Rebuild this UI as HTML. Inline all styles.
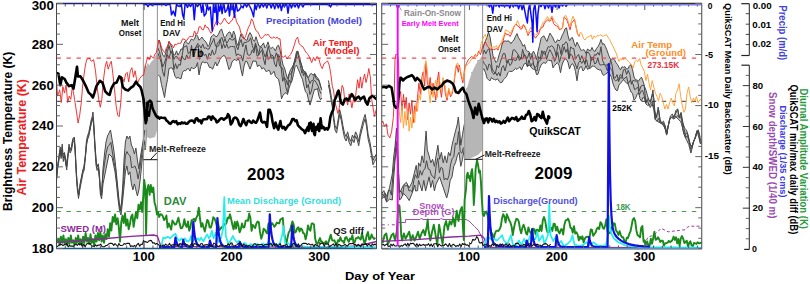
<!DOCTYPE html><html><head><meta charset="utf-8"><style>html,body{margin:0;padding:0;background:#fff;overflow:hidden}svg{display:block}text{font-family:"Liberation Sans",sans-serif}</style></head><body>
<svg width="810" height="284" viewBox="0 0 810 284">
<rect x="0" y="0" width="810" height="284" fill="#fff"/>
<defs><clipPath id="cl"><rect x="56.5" y="3.5" width="320.0" height="245.0"/></clipPath><clipPath id="cr"><rect x="381.75" y="3.5" width="320.0" height="245.0"/></clipPath></defs>
<g clip-path="url(#cl)">
<polygon points="56.5,177.9 57.4,166.6 58.8,158.2 60.2,146.9 61.1,155.4 62.2,144.1 63.3,158.2 64.5,152.5 65.9,161.0 66.7,166.6 67.8,155.4 69.0,144.1 70.1,149.7 71.5,146.9 72.9,138.5 74.3,137.0 75.2,146.9 76.3,172.3 77.4,186.3 78.5,194.8 79.7,186.3 80.8,180.7 81.9,175.1 83.0,169.4 84.2,166.6 85.3,155.4 86.4,141.3 87.5,135.6 88.7,132.8 89.8,127.0 91.2,120.0 92.3,116.3 93.0,112.0 94.0,126.0 94.9,144.1 96.0,161.0 97.1,166.6 98.3,163.8 99.4,172.3 100.3,190.0 101.6,195.0 103.0,168.9 104.5,154.0 106.0,142.0 107.5,136.0 109.0,133.0 110.5,130.0 112.0,139.0 113.5,148.0 115.0,160.0 116.5,174.9 118.0,189.9 119.5,204.9 120.4,210.8 121.6,201.9 122.8,183.9 124.0,160.0 125.4,142.0 126.9,136.0 128.4,139.0 129.9,136.0 131.4,145.0 132.9,148.0 134.4,154.0 135.9,148.0 137.4,160.0 138.9,168.9 140.4,157.0 141.9,148.0 143.4,139.0 144.9,130.0 144.9,142.0 143.4,148.0 141.9,163.0 140.4,177.9 138.9,189.9 137.4,195.9 135.9,189.9 134.4,183.9 132.9,189.9 131.4,183.9 129.9,171.9 128.4,174.9 126.9,165.9 125.4,171.9 124.0,186.9 122.5,201.9 121.0,215.0 119.5,210.8 118.0,198.9 116.5,183.9 115.0,171.9 112.0,157.0 109.0,154.0 106.0,168.9 103.0,183.9 101.6,199.0 100.3,194.0 99.4,176.0 98.3,168.0 97.1,170.5 96.0,165.0 94.9,148.0 94.0,131.0 93.0,117.0 92.3,120.5 91.2,124.0 89.8,131.0 88.7,136.5 87.5,139.0 86.4,145.0 85.3,159.0 84.2,170.0 83.0,173.0 81.9,179.0 80.8,184.5 79.7,190.0 78.5,198.5 77.4,190.0 76.3,176.0 75.2,150.5 74.3,140.5 72.9,142.0 71.5,150.0 70.1,153.0 69.0,147.5 67.8,159.0 66.7,170.0 65.9,164.5 64.5,156.0 63.3,161.5 62.2,147.5 61.1,158.5 60.2,150.0 58.8,161.5 57.4,170.0 56.5,181.0" fill="#c3c3c3" stroke="none" stroke-width="0" />
<polygon points="157.7,42.8 158.4,41.4 159.1,40.0 160.0,42.4 161.5,50.8 163.0,55.5 164.5,56.8 166.0,51.8 167.5,46.8 169.0,41.4 170.5,44.1 172.0,47.9 173.5,54.7 175.0,54.9 176.5,50.8 178.0,55.1 179.5,52.7 181.0,48.9 182.5,49.5 184.0,43.4 185.5,40.8 187.0,42.9 188.5,44.0 190.0,41.3 191.5,38.8 193.0,40.3 194.5,39.1 196.0,34.4 197.5,35.9 199.0,40.2 200.5,38.6 202.0,37.0 203.5,39.6 205.0,40.9 206.5,42.8 208.0,46.5 209.5,44.3 211.0,37.0 212.5,35.4 214.0,34.4 215.5,36.5 217.0,36.5 218.5,34.1 220.0,30.7 221.5,28.9 223.0,33.6 224.5,38.1 226.0,36.4 227.5,33.7 229.0,31.9 230.5,32.5 232.0,37.9 233.5,31.0 235.0,34.5 236.5,42.7 238.0,45.6 239.5,38.7 241.0,34.0 242.5,37.5 244.0,37.6 245.5,39.8 247.0,40.3 248.5,35.2 250.0,32.6 251.5,35.1 253.0,39.7 254.5,41.5 256.0,36.7 257.5,41.6 259.0,46.0 260.5,46.4 262.0,45.3 263.5,42.9 265.0,47.9 266.5,46.1 268.0,41.9 269.5,47.2 271.0,48.5 272.5,47.1 274.0,48.6 275.5,51.0 277.0,46.4 278.5,45.1 280.0,49.8 281.5,57.7 283.0,65.0 284.5,67.9 286.0,73.6 287.5,78.8 289.0,73.8 290.5,69.9 292.0,67.3 293.5,64.7 295.0,58.6 296.5,51.6 298.0,51.1 299.5,57.7 301.0,63.0 302.5,68.5 304.0,71.3 305.5,71.8 307.0,75.2 308.5,77.5 310.0,74.3 311.5,73.4 313.0,75.4 314.5,73.5 316.0,76.2 317.5,77.6 319.0,80.0 320.5,86.1 321.9,90.0 321.9,98.0 320.5,99.8 319.0,96.5 317.5,88.4 316.0,89.5 314.5,89.4 313.0,94.3 311.5,100.2 310.0,105.1 308.5,99.9 307.0,93.3 305.5,91.7 304.0,86.2 302.5,79.4 301.0,76.1 299.5,72.2 298.0,68.7 296.5,65.1 295.0,66.8 293.5,74.6 292.0,80.9 290.5,83.8 289.0,88.3 287.5,94.6 286.0,92.7 284.5,93.4 283.0,95.4 281.5,98.8 280.0,86.3 278.5,79.2 277.0,78.0 275.5,76.5 274.0,71.2 272.5,73.2 271.0,74.7 269.5,70.5 268.0,70.4 266.5,72.0 265.0,69.9 263.5,67.6 262.0,69.2 260.5,66.2 259.0,65.0 257.5,66.8 256.0,61.0 254.5,61.4 253.0,60.8 251.5,65.2 250.0,69.1 248.5,65.4 247.0,61.5 245.5,61.3 244.0,66.0 242.5,76.0 241.0,69.8 239.5,61.4 238.0,58.4 236.5,60.9 235.0,59.3 233.5,60.2 232.0,62.0 230.5,67.3 229.0,69.6 227.5,64.2 226.0,58.3 224.5,55.6 223.0,55.8 221.5,57.4 220.0,59.4 218.5,63.2 217.0,66.0 215.5,62.0 214.0,65.6 212.5,69.3 211.0,67.3 209.5,67.6 208.0,64.0 206.5,62.0 205.0,63.0 203.5,62.0 202.0,62.2 200.5,66.7 199.0,75.0 197.5,62.6 196.0,67.1 194.5,68.3 193.0,68.7 191.5,67.1 190.0,71.1 188.5,68.5 187.0,68.9 185.5,70.9 184.0,70.4 182.5,72.6 181.0,78.8 179.5,78.4 178.0,77.4 176.5,78.3 175.0,76.2 173.5,70.8 172.0,67.8 170.5,68.1 169.0,68.5 167.5,79.5 166.0,87.2 164.5,97.5 163.0,90.8 161.5,84.6 160.0,76.4 159.7,76.4 157.9,74.6" fill="#c3c3c3" stroke="none" stroke-width="0" />
<polyline points="154.8,60.3 155.2,70.0 155.6,78.0 156.5,100.0 156.0,130.0" fill="none" stroke="#666" stroke-width="0.9" stroke-linejoin="round" />
<polyline points="141.5,88.0 143.0,100.0 144.3,128.0 144.6,150.0" fill="none" stroke="#333" stroke-width="1.0" stroke-linejoin="round" />
<polyline points="148.6,65.6 149.5,75.0 151.2,90.2 152.0,110.0 151.0,135.0" fill="none" stroke="#666" stroke-width="0.9" stroke-linejoin="round" />
<polyline points="145.0,70.8 145.5,85.0 146.0,105.0 146.5,130.0 145.5,150.0" fill="none" stroke="#555" stroke-width="0.9" stroke-linejoin="round" />
<polygon points="328.3,80.4 329.3,84.6 330.4,90.9 331.4,97.3 332.5,103.6 333.4,114.0 335.0,125.5 336.6,128.6 338.2,119.1 339.7,109.6 341.3,116.0 342.9,125.5 344.5,133.4 346.1,136.5 347.6,131.8 349.2,138.1 350.8,141.3 352.4,135.0 354.0,138.1 355.6,131.8 357.1,135.0 358.7,141.3 360.3,131.8 361.9,125.5 363.5,119.1 365.1,114.4 366.6,122.3 368.2,135.0 369.8,141.3 371.4,150.8 373.0,160.3 374.5,157.1 376.5,153.9 376.5,158.4 374.5,161.6 373.0,164.8 371.4,155.3 369.8,145.8 368.2,139.5 366.6,126.8 365.1,118.9 363.5,123.6 361.9,130.0 360.3,136.3 358.7,145.8 357.1,139.5 355.6,136.3 354.0,142.6 352.4,139.5 350.8,145.8 349.2,142.6 347.6,136.3 346.1,141.0 344.5,137.9 342.9,130.0 341.3,120.5 339.7,114.1 338.2,123.6 336.6,133.1 335.0,130.0 333.4,118.5 332.5,108.1 331.4,101.8 330.4,95.4 329.3,89.1 328.3,84.9" fill="#c3c3c3" stroke="none" stroke-width="0" />
<polygon points="143.3,70.0 144.3,66.0 145.7,64.5 146.5,66.8 147.9,62.5 149.3,65.4 150.7,62.5 152.1,61.1 153.5,59.7 154.9,56.9 156.3,54.1 157.0,48.5 157.7,42.8 157.7,100.0 157.7,128.0 155.0,137.0 150.0,138.5 147.0,137.0 146.0,127.0 145.5,140.0 144.5,150.0 143.5,158.0 143.3,150.0" fill="#b6b6b6" stroke="none" stroke-width="0" />
<polyline points="56.5,177.9 57.4,166.6 58.8,158.2 60.2,146.9 61.1,155.4 62.2,144.1 63.3,158.2 64.5,152.5 65.9,161.0 66.7,166.6 67.8,155.4 69.0,144.1 70.1,149.7 71.5,146.9 72.9,138.5 74.3,137.0 75.2,146.9 76.3,172.3 77.4,186.3 78.5,194.8 79.7,186.3 80.8,180.7 81.9,175.1 83.0,169.4 84.2,166.6 85.3,155.4 86.4,141.3 87.5,135.6 88.7,132.8 89.8,127.0 91.2,120.0 92.3,116.3 93.0,112.0 94.0,126.0 94.9,144.1 96.0,161.0 97.1,166.6 98.3,163.8 99.4,172.3 100.3,190.0 101.6,195.0 103.0,168.9 104.5,154.0 106.0,142.0 107.5,136.0 109.0,133.0 110.5,130.0 112.0,139.0 113.5,148.0 115.0,160.0 116.5,174.9 118.0,189.9 119.5,204.9 120.4,210.8 121.6,201.9 122.8,183.9 124.0,160.0 125.4,142.0 126.9,136.0 128.4,139.0 129.9,136.0 131.4,145.0 132.9,148.0 134.4,154.0 135.9,148.0 137.4,160.0 138.9,168.9 140.4,157.0 141.9,148.0 143.4,139.0 144.9,130.0" fill="none" stroke="#484848" stroke-width="1.0" stroke-linejoin="round" />
<polyline points="56.5,181.0 57.4,170.0 58.8,161.5 60.2,150.0 61.1,158.5 62.2,147.5 63.3,161.5 64.5,156.0 65.9,164.5 66.7,170.0 67.8,159.0 69.0,147.5 70.1,153.0 71.5,150.0 72.9,142.0 74.3,140.5 75.2,150.5 76.3,176.0 77.4,190.0 78.5,198.5 79.7,190.0 80.8,184.5 81.9,179.0 83.0,173.0 84.2,170.0 85.3,159.0 86.4,145.0 87.5,139.0 88.7,136.5 89.8,131.0 91.2,124.0 92.3,120.5 93.0,117.0 94.0,131.0 94.9,148.0 96.0,165.0 97.1,170.5 98.3,168.0 99.4,176.0 100.3,194.0 101.6,199.0 103.0,183.9 106.0,168.9 109.0,154.0 112.0,157.0 115.0,171.9 116.5,183.9 118.0,198.9 119.5,210.8 121.0,215.0 122.5,201.9 124.0,186.9 125.4,171.9 126.9,165.9 128.4,174.9 129.9,171.9 131.4,183.9 132.9,189.9 134.4,183.9 135.9,189.9 137.4,195.9 138.9,189.9 140.4,177.9 141.9,163.0 143.4,148.0 144.9,142.0" fill="none" stroke="#484848" stroke-width="1.0" stroke-linejoin="round" />
<polyline points="157.7,42.8 158.4,41.4 159.1,40.0 160.0,42.4 161.5,50.8 163.0,55.5 164.5,56.8 166.0,51.8 167.5,46.8 169.0,41.4 170.5,44.1 172.0,47.9 173.5,54.7 175.0,54.9 176.5,50.8 178.0,55.1 179.5,52.7 181.0,48.9 182.5,49.5 184.0,43.4 185.5,40.8 187.0,42.9 188.5,44.0 190.0,41.3 191.5,38.8 193.0,40.3 194.5,39.1 196.0,34.4 197.5,35.9 199.0,40.2 200.5,38.6 202.0,37.0 203.5,39.6 205.0,40.9 206.5,42.8 208.0,46.5 209.5,44.3 211.0,37.0 212.5,35.4 214.0,34.4 215.5,36.5 217.0,36.5 218.5,34.1 220.0,30.7 221.5,28.9 223.0,33.6 224.5,38.1 226.0,36.4 227.5,33.7 229.0,31.9 230.5,32.5 232.0,37.9 233.5,31.0 235.0,34.5 236.5,42.7 238.0,45.6 239.5,38.7 241.0,34.0 242.5,37.5 244.0,37.6 245.5,39.8 247.0,40.3 248.5,35.2 250.0,32.6 251.5,35.1 253.0,39.7 254.5,41.5 256.0,36.7 257.5,41.6 259.0,46.0 260.5,46.4 262.0,45.3 263.5,42.9 265.0,47.9 266.5,46.1 268.0,41.9 269.5,47.2 271.0,48.5 272.5,47.1 274.0,48.6 275.5,51.0 277.0,46.4 278.5,45.1 280.0,49.8 281.5,57.7 283.0,65.0 284.5,67.9 286.0,73.6 287.5,78.8 289.0,73.8 290.5,69.9 292.0,67.3 293.5,64.7 295.0,58.6 296.5,51.6 298.0,51.1 299.5,57.7 301.0,63.0 302.5,68.5 304.0,71.3 305.5,71.8 307.0,75.2 308.5,77.5 310.0,74.3 311.5,73.4 313.0,75.4 314.5,73.5 316.0,76.2 317.5,77.6 319.0,80.0 320.5,86.1 321.9,90.0" fill="none" stroke="#484848" stroke-width="1.0" stroke-linejoin="round" />
<polyline points="157.9,74.6 159.7,76.4 160.0,76.4 161.5,84.6 163.0,90.8 164.5,97.5 166.0,87.2 167.5,79.5 169.0,68.5 170.5,68.1 172.0,67.8 173.5,70.8 175.0,76.2 176.5,78.3 178.0,77.4 179.5,78.4 181.0,78.8 182.5,72.6 184.0,70.4 185.5,70.9 187.0,68.9 188.5,68.5 190.0,71.1 191.5,67.1 193.0,68.7 194.5,68.3 196.0,67.1 197.5,62.6 199.0,75.0 200.5,66.7 202.0,62.2 203.5,62.0 205.0,63.0 206.5,62.0 208.0,64.0 209.5,67.6 211.0,67.3 212.5,69.3 214.0,65.6 215.5,62.0 217.0,66.0 218.5,63.2 220.0,59.4 221.5,57.4 223.0,55.8 224.5,55.6 226.0,58.3 227.5,64.2 229.0,69.6 230.5,67.3 232.0,62.0 233.5,60.2 235.0,59.3 236.5,60.9 238.0,58.4 239.5,61.4 241.0,69.8 242.5,76.0 244.0,66.0 245.5,61.3 247.0,61.5 248.5,65.4 250.0,69.1 251.5,65.2 253.0,60.8 254.5,61.4 256.0,61.0 257.5,66.8 259.0,65.0 260.5,66.2 262.0,69.2 263.5,67.6 265.0,69.9 266.5,72.0 268.0,70.4 269.5,70.5 271.0,74.7 272.5,73.2 274.0,71.2 275.5,76.5 277.0,78.0 278.5,79.2 280.0,86.3 281.5,98.8 283.0,95.4 284.5,93.4 286.0,92.7 287.5,94.6 289.0,88.3 290.5,83.8 292.0,80.9 293.5,74.6 295.0,66.8 296.5,65.1 298.0,68.7 299.5,72.2 301.0,76.1 302.5,79.4 304.0,86.2 305.5,91.7 307.0,93.3 308.5,99.9 310.0,105.1 311.5,100.2 313.0,94.3 314.5,89.4 316.0,89.5 317.5,88.4 319.0,96.5 320.5,99.8 321.9,98.0" fill="none" stroke="#484848" stroke-width="1.0" stroke-linejoin="round" />
<polyline points="328.3,80.4 329.3,84.6 330.4,90.9 331.4,97.3 332.5,103.6 333.4,114.0 335.0,125.5 336.6,128.6 338.2,119.1 339.7,109.6 341.3,116.0 342.9,125.5 344.5,133.4 346.1,136.5 347.6,131.8 349.2,138.1 350.8,141.3 352.4,135.0 354.0,138.1 355.6,131.8 357.1,135.0 358.7,141.3 360.3,131.8 361.9,125.5 363.5,119.1 365.1,114.4 366.6,122.3 368.2,135.0 369.8,141.3 371.4,150.8 373.0,160.3 374.5,157.1 376.5,153.9" fill="none" stroke="#484848" stroke-width="1.0" stroke-linejoin="round" />
<polyline points="328.3,84.9 329.3,89.1 330.4,95.4 331.4,101.8 332.5,108.1 333.4,118.5 335.0,130.0 336.6,133.1 338.2,123.6 339.7,114.1 341.3,120.5 342.9,130.0 344.5,137.9 346.1,141.0 347.6,136.3 349.2,142.6 350.8,145.8 352.4,139.5 354.0,142.6 355.6,136.3 357.1,139.5 358.7,145.8 360.3,136.3 361.9,130.0 363.5,123.6 365.1,118.9 366.6,126.8 368.2,139.5 369.8,145.8 371.4,155.3 373.0,164.8 374.5,161.6 376.5,158.4" fill="none" stroke="#484848" stroke-width="1.0" stroke-linejoin="round" />
<polyline points="157.9,53.2 159.5,57.5 161.1,62.0 162.7,71.8 164.3,76.4 165.9,62.2 167.5,54.7 169.1,58.4 170.7,51.8 172.3,54.2 173.9,69.6 175.5,63.6 177.1,68.7 178.7,64.4 180.3,65.2 181.9,56.0 183.5,58.9 185.1,59.8 186.7,54.9 188.3,58.4 189.9,57.1 191.5,45.4 193.1,56.7 194.7,53.1 196.3,46.1 197.9,43.4 199.5,59.4 201.1,49.7 202.7,52.0 204.3,55.6 205.9,54.2 207.5,59.3 209.1,53.2 210.7,55.7 212.3,49.9 213.9,54.7 215.5,53.3 217.1,43.9 218.7,41.6 220.3,39.3 221.9,48.7 223.5,43.5 225.1,47.9 226.7,44.0 228.3,48.3 229.9,46.8 231.5,46.5 233.1,46.6 234.7,46.6 236.3,55.8 237.9,53.9 239.5,55.0 241.1,55.4 242.7,61.1 244.3,52.6 245.9,44.9 247.5,54.5 249.1,55.4 250.7,54.5 252.3,49.9 253.9,52.9 255.5,44.5 257.1,56.2 258.7,55.2 260.3,52.2 261.9,49.9 263.5,59.0 265.1,64.7 266.7,51.6 268.3,59.5 269.9,57.1 271.5,54.9 273.1,55.9 274.7,64.3 276.3,66.7 277.9,54.1 279.5,65.9 281.1,67.2 282.7,81.3 284.3,76.9 285.9,87.3 287.5,92.7 289.1,80.1 290.7,82.8 292.3,69.9 293.9,63.1 295.5,62.2 297.1,51.6 298.7,57.2 300.3,65.4 301.9,73.2 303.5,71.7 305.1,73.6 306.7,87.9 308.3,84.4 309.9,94.5 311.5,91.0 313.1,82.0 314.7,80.3 316.3,82.5 317.9,85.8 319.5,90.4 321.1,93.7" fill="none" stroke="#484848" stroke-width="1.0" stroke-linejoin="round" />
<polyline points="56.5,179.2 58.1,163.3 59.7,150.9 61.3,156.5 62.9,153.1 64.5,154.3 66.1,165.9 67.7,156.4 69.3,147.6 70.9,150.4 72.5,140.9 74.1,138.2 75.7,161.5 77.3,186.6 78.9,195.2 80.5,182.2 82.1,174.4 83.7,167.8 85.3,157.2 86.9,142.3 88.5,135.6 90.1,129.1 91.7,119.7 93.3,120.2 94.9,144.1 96.5,164.3 98.1,167.4 99.7,181.5 101.3,195.4 102.9,175.4 104.5,163.8 106.1,153.3 107.7,146.7 109.3,145.2 110.9,142.3 112.5,153.1 114.1,162.4 115.7,169.6 117.3,186.7 118.9,202.4 120.5,210.1 122.1,199.4 123.7,180.4 125.3,155.8 126.9,151.5 128.5,154.5 130.1,155.8 131.7,167.7 133.3,167.2 134.9,166.0 136.5,170.1 138.1,178.9 139.7,170.1 141.3,157.8 142.9,147.5 144.5,140.5" fill="none" stroke="#484848" stroke-width="1.0" stroke-linejoin="round" />
<polyline points="157.9,48.0 159.5,51.7 161.1,58.9 162.7,66.8 164.3,63.5 165.9,58.4 167.5,51.4 169.1,45.6 170.7,52.8 172.3,50.4 173.9,59.4 175.5,56.5 177.1,56.8 178.7,59.3 180.3,61.0 181.9,56.8 183.5,47.0 185.1,46.6 186.7,45.7 188.3,53.8 189.9,51.9 191.5,48.9 193.1,50.6 194.7,48.4 196.3,47.0 197.9,47.2 199.5,45.4 201.1,48.2 202.7,44.1 204.3,48.4 205.9,47.8 207.5,49.1 209.1,49.0 210.7,45.0 212.3,42.1 213.9,38.5 215.5,46.1 217.1,46.7 218.7,45.7 220.3,39.4 221.9,37.4 223.5,42.7 225.1,38.6 226.7,43.4 228.3,40.8 229.9,38.0 231.5,40.0 233.1,40.0 234.7,37.8 236.3,46.0 237.9,49.7 239.5,43.4 241.1,39.5 242.7,46.7 244.3,42.2 245.9,42.6 247.5,41.6 249.1,41.0 250.7,37.9 252.3,45.4 253.9,50.4 255.5,42.9 257.1,48.7 258.7,54.5 260.3,46.7 261.9,47.7 263.5,52.2 265.1,56.8 266.7,53.5 268.3,46.4 269.9,52.7 271.5,58.3 273.1,57.7 274.7,58.7 276.3,52.8 277.9,57.4 279.5,55.9 281.1,67.7 282.7,68.1 284.3,78.8 285.9,79.1 287.5,85.0 289.1,74.3 290.7,74.2 292.3,70.8 293.9,66.4 295.5,57.4 297.1,57.5 298.7,56.6 300.3,61.9 301.9,66.3 303.5,75.6 305.1,72.4 306.7,76.4 308.3,78.4 309.9,83.5 311.5,80.7 313.1,80.4 314.7,73.9 316.3,79.1 317.9,79.7 319.5,82.0 321.1,87.8" fill="none" stroke="#484848" stroke-width="1.0" stroke-linejoin="round" />
<polyline points="143.4,3.5 143.4,248.5" fill="none" stroke="#9a9a9a" stroke-width="1.1" stroke-linejoin="round" />
<polyline points="157.4,3.5 157.4,248.5" fill="none" stroke="#9a9a9a" stroke-width="1.1" stroke-linejoin="round" />
<polyline points="56.5,58.1 376.5,58.1" fill="none" stroke="#f05050" stroke-width="1.1" stroke-linejoin="round" stroke-dasharray="4.4,5.6"/>
<polyline points="56.5,101.3 376.5,101.3" fill="none" stroke="#333" stroke-width="1.0" stroke-linejoin="round" stroke-dasharray="4.4,5.6"/>
<polyline points="56.5,211.5 376.5,211.5" fill="none" stroke="#4a9a4a" stroke-width="1.1" stroke-linejoin="round" stroke-dasharray="4.4,5.6"/>
<polyline points="56.5,80.3 57.5,96.1 59.7,89.8 61.3,102.5 62.9,86.6 64.5,93.0 66.1,85.0 67.7,102.5 69.2,96.1 70.8,99.3 72.4,86.6 74.6,99.3 76.5,112.0 78.1,123.0 79.7,115.1 81.3,102.5 82.8,83.5 85.0,67.7 86.6,59.7 89.2,58.2 91.4,61.3 93.6,59.7 95.5,70.8 97.1,86.6 98.7,99.3 100.3,107.2 101.8,99.3 103.4,80.3 105.0,67.7 106.6,61.3 108.2,69.2 109.7,64.5 111.3,61.3 112.9,74.0 114.5,89.8 116.1,105.6 117.7,115.1 119.2,116.7 120.8,102.5 122.4,77.2 124.0,81.9 125.6,74.0 127.2,72.4 128.7,81.9 130.3,70.8 131.9,67.7 133.5,77.2 135.1,70.8 137.3,83.5 139.5,78.7 142.0,75.6 143.6,75.2 145.0,68.2 146.5,61.1 147.9,56.9 149.3,59.7 150.7,55.5 152.1,56.9 153.5,58.3 154.9,54.1 156.3,52.7 157.7,45.6 159.1,40.0 160.5,44.2 161.9,48.5 163.4,51.3 164.8,52.7 166.2,48.5 168.0,45.6 169.0,41.7 170.8,44.4 172.0,44.9 173.5,47.9 175.0,44.0 176.5,44.9 178.0,43.1 179.5,43.5 181.0,43.0 182.5,38.9 184.0,39.2 185.5,40.2 187.0,40.4 188.5,37.7 190.0,36.4 191.5,36.5 193.0,36.8 194.5,31.0 196.0,34.1 197.5,33.6 199.0,26.9 200.5,26.6 202.0,29.5 203.5,29.9 205.0,24.8 206.5,27.4 208.0,27.5 209.5,30.7 211.0,33.3 212.5,31.4 214.0,26.7 215.5,23.0 217.0,19.8 218.5,22.7 220.0,24.3 221.5,23.4 223.0,20.9 224.5,18.0 226.0,20.5 227.5,22.9 229.0,23.9 230.5,21.4 232.0,20.6 233.5,17.1 235.0,14.8 236.5,21.8 238.0,24.7 239.5,27.0 241.0,33.7 242.5,34.2 244.0,39.1 245.5,36.7 247.0,31.6 248.5,27.2 250.0,24.6 251.5,18.8 253.0,21.2 254.5,27.0 256.0,30.6 257.5,31.6 259.0,34.4 260.5,37.9 262.0,38.5 263.5,36.5 265.0,34.5 266.5,35.1 268.0,34.1 269.5,36.2 271.0,38.0 272.5,38.0 274.0,36.8 275.5,38.4 277.0,37.0 278.5,39.0 280.0,38.7 280.9,47.6 281.8,56.4 283.5,57.3 285.3,55.5 287.1,59.0 288.8,56.4 290.6,54.6 292.3,51.1 294.1,45.8 295.9,39.7 297.6,37.0 299.0,43.2 301.1,45.8 302.9,46.7 304.7,50.2 306.4,52.9 308.2,54.6 309.9,58.2 311.7,62.6 313.5,57.3 315.2,60.8 317.0,56.4 318.7,58.2 320.5,65.2 322.3,68.7 324.0,63.5 325.8,62.6 327.5,60.8 329.4,65.6 330.8,74.1 332.2,85.4 333.6,91.0 335.0,102.3 336.5,107.9 337.9,113.5 339.3,107.9 340.7,96.6 342.1,85.4 343.5,88.2 344.9,102.3 346.3,99.4 347.7,105.1 349.1,93.8 350.5,99.4 351.9,107.9 353.4,99.4 354.8,102.3 356.2,91.0 357.6,79.7 359.0,88.2 360.4,76.9 361.8,88.2 363.2,79.7 364.6,74.1 366.0,82.5 367.4,76.9 368.8,68.5 370.3,76.9 371.7,99.4 373.1,107.9 374.5,116.3 375.9,110.7 377.6,105.1" fill="none" stroke="#f02020" stroke-width="0.9" stroke-linejoin="round" />
<polyline points="56.0,242.8 58.5,239.1 59.7,245.3 60.9,236.7 62.2,242.8 63.4,235.4 64.6,244.0 65.9,239.1 67.1,245.3 68.3,237.9 69.5,244.0 70.8,235.4 72.0,242.8 73.2,240.3 74.5,245.3 75.7,237.9 76.9,242.8 78.2,235.4 79.4,244.0 80.6,239.1 81.9,245.3 83.1,236.7 84.3,242.8 85.6,233.0 86.8,241.6 88.0,237.9 89.3,244.0 90.5,234.2 91.7,242.8 92.9,239.1 94.2,245.3 95.4,235.4 96.6,241.6 97.9,233.0 99.1,240.3 100.3,231.7 101.6,241.6 102.8,235.4 104.0,242.8 105.3,234.2 106.5,239.1 107.7,229.3 109.0,236.7 110.2,223.1 111.4,230.5 112.7,216.9 113.9,221.9 115.1,214.5 116.3,224.3 117.6,218.2 118.8,226.8 120.0,241.6 121.3,221.9 122.5,215.7 123.7,223.1 125.0,213.3 126.2,225.6 127.4,219.4 128.7,229.3 129.9,224.3 131.1,216.9 132.4,214.5 133.6,226.8 134.8,219.4 136.0,212.0 137.3,218.2 138.5,204.6 139.7,209.6 141.0,202.2 142.2,212.0 143.4,194.8 144.2,180.0 145.2,187.4 146.1,234.2 147.1,189.9 148.4,184.9 149.6,194.8 150.8,184.9 152.1,192.3 153.3,187.4 154.5,202.2 155.8,207.1 157.0,214.5 158.0,211.9 159.2,217.0 160.4,214.2 161.6,214.4 162.8,216.3 164.0,220.0 165.2,218.7 166.4,215.5 167.6,227.6 168.8,223.4 170.0,226.5 171.2,229.6 172.4,220.5 173.6,222.2 174.8,224.6 176.0,224.3 177.2,221.4 178.4,217.7 179.6,223.6 180.8,228.2 182.0,228.0 183.2,225.3 184.4,219.3 185.6,225.2 186.8,227.0 188.0,221.4 189.2,230.7 190.4,227.7 191.6,220.2 192.8,219.9 194.0,218.7 195.2,221.3 196.4,217.6 197.6,215.3 198.8,207.7 200.0,218.5 201.2,226.9 202.4,223.2 203.6,227.5 204.8,231.5 206.0,225.8 207.2,219.9 208.4,221.2 209.6,227.4 210.8,227.7 212.0,223.8 213.2,217.3 214.4,218.2 215.6,221.3 216.8,225.9 218.0,222.3 219.2,230.5 220.4,229.0 221.6,227.1 222.8,228.5 224.0,223.7 225.2,224.7 226.4,223.3 227.6,217.6 228.8,218.4 230.0,214.3 231.2,219.3 232.4,225.0 233.6,229.4 234.8,221.9 236.0,228.6 237.2,221.4 238.4,225.3 239.6,232.4 240.8,229.3 242.0,223.4 243.2,227.5 244.4,227.3 245.6,220.8 246.8,220.4 248.0,220.8 249.2,213.4 250.4,218.0 251.6,230.9 252.8,224.9 254.0,226.5 255.2,228.1 256.4,223.5 257.6,221.6 258.8,222.2 260.0,231.9 261.2,238.7 262.4,235.3 263.6,228.8 264.8,229.8 266.0,231.9 267.2,233.5 268.4,223.9 269.6,222.7 270.8,225.5 272.0,223.1 273.2,224.5 274.4,226.8 275.6,225.2 276.8,222.6 278.0,223.3 279.2,223.4 280.4,219.3 281.6,218.8 282.8,217.9 284.0,232.8 285.2,238.2 286.4,243.9 287.6,237.3 288.8,232.2 290.0,230.6 291.2,225.8 292.4,221.4 293.6,224.4 294.8,232.7 296.0,231.8 297.2,228.2 298.4,227.3 299.6,231.5 300.8,228.5 302.0,229.5 303.2,233.2 304.4,233.6 305.6,239.2 306.8,234.4 308.0,225.4 309.2,229.1 310.4,230.7 311.6,223.7 312.8,223.4 314.0,224.7 315.2,238.8 316.4,243.0 317.6,244.0 318.8,240.7 320.0,238.1 321.2,241.9 322.4,241.8 323.6,244.2 324.8,242.6 326.0,241.3 327.2,243.2 328.4,242.5 329.6,238.5 330.8,234.6 332.0,240.0 333.2,240.7 334.4,240.3 335.6,243.1 336.8,244.7 338.0,240.1 339.2,241.2 340.4,237.2 341.6,240.7 342.8,241.0 344.0,243.0 345.2,237.8 346.4,237.0 347.6,239.8 348.8,241.8 350.0,238.6 351.2,239.3 352.4,235.3 353.6,243.0 354.8,242.1 356.0,238.1 357.2,238.0 358.4,237.1 359.6,238.5 360.8,239.4 362.0,233.2 363.2,238.2 364.4,243.3 365.6,240.7 366.8,234.8 368.0,232.0 369.2,239.6 370.4,238.8 371.6,234.5 372.8,237.3 374.0,239.0 375.2,237.9" fill="none" stroke="#1a8a1a" stroke-width="1.9" stroke-linejoin="round" />
<polyline points="56.5,242.5 106.0,238.5 131.0,236.3 153.5,235.0 157.3,236.0 161.0,246.5 340.0,247.3 360.0,245.5 376.5,241.5" fill="none" stroke="#8a2a9a" stroke-width="1.3" stroke-linejoin="round" />
<polyline points="159.0,247.5 161.6,245.3 163.1,237.6 165.4,238.3 167.8,236.8 170.1,238.3 172.4,236.0 175.5,233.7 177.1,238.3 179.4,240.7 181.7,238.3 183.3,240.7 184.8,238.3 187.1,241.4 189.5,240.7 191.0,236.0 192.6,242.2 194.9,237.6 196.4,239.9 198.0,238.3 199.5,240.7 201.1,237.6 203.4,241.4 205.7,236.8 207.3,234.5 208.8,238.3 210.4,236.0 211.9,230.6 213.5,238.3 215.8,232.9 217.4,239.1 218.9,242.2 221.2,237.6 222.8,229.8 223.6,214.3 224.3,197.0 225.1,220.5 225.9,236.0 228.2,243.8 230.5,240.7 232.9,236.0 234.4,239.1 236.7,242.2 239.1,240.7 242.0,245.0 245.0,243.0 248.0,246.0 251.0,244.0 254.0,246.5 257.0,244.0 260.0,246.0 263.0,243.5 266.0,246.0 269.0,241.0 271.0,245.5 274.0,243.5 277.0,246.0 280.0,243.0 282.5,234.0 283.5,226.0 284.5,238.0 285.5,244.5 288.0,243.0 291.0,246.0 294.0,244.5 297.0,246.5 300.0,245.5 305.0,246.5 376.5,247.0" fill="none" stroke="#22eeee" stroke-width="1.7" stroke-linejoin="round" />
<polyline points="159.0,247.0 159.7,247.0 160.4,247.0 161.1,247.0 161.8,247.0 162.5,247.0 163.2,247.0 163.9,247.0 164.6,247.0 165.3,247.0 166.0,247.0 166.7,247.0 167.4,247.0 168.1,247.0 168.8,247.0 169.5,247.0 170.2,247.0 170.9,247.0 171.6,247.0 172.3,247.0 173.0,247.0 173.7,247.0 174.3,247.0 174.4,246.2 175.1,240.7 175.5,237.6 175.8,239.3 176.5,242.2 177.2,244.0 177.9,245.1 178.6,245.8 179.3,246.3 180.0,246.5 180.7,246.7 181.4,246.8 182.1,246.9 182.8,242.9 183.3,239.9 183.5,240.8 184.2,243.1 184.9,244.6 185.6,245.5 186.3,246.0 187.0,246.4 187.7,246.6 188.4,246.8 189.1,246.9 189.8,246.9 190.5,246.9 191.2,247.0 191.9,247.0 192.1,247.0 192.6,236.5 193.3,221.8 194.0,229.9 194.7,235.4 195.4,239.2 196.1,241.7 196.8,243.4 197.5,244.6 198.2,245.3 198.9,245.9 199.6,246.2 200.3,246.5 201.0,246.7 201.7,246.8 202.4,246.8 203.1,246.9 203.8,246.9 204.5,246.9 205.2,247.0 205.9,247.0 206.6,247.0 207.3,247.0 208.0,247.0 208.7,247.0 208.8,247.0 209.4,243.7 210.0,240.5 210.1,241.0 210.8,243.7 211.5,245.1 212.2,246.0 212.9,246.4 213.6,246.7 214.3,246.8 215.0,246.9 215.7,246.9 216.2,247.0 216.4,242.2 217.1,225.4 217.4,218.2 217.8,223.9 218.5,231.4 219.2,236.4 219.9,239.8 220.6,242.1 221.3,243.7 222.0,244.8 222.7,245.5 223.4,246.0 224.1,246.3 224.8,246.5 225.5,246.7 226.2,246.8 226.9,246.9 227.6,246.9 228.3,246.9 229.0,247.0 229.7,247.0 230.4,247.0 231.1,247.0 231.8,247.0 232.5,247.0 233.2,247.0 233.9,247.0 234.6,247.0 235.3,247.0 236.0,247.0 236.7,247.0 237.4,247.0 238.1,247.0 238.8,247.0 239.5,244.1 240.0,242.0 240.2,242.8 240.9,244.6 241.6,245.7 242.3,246.3 243.0,246.6 243.7,246.8 244.4,246.9 245.1,246.9 245.8,247.0 246.5,247.0 247.2,247.0 247.9,247.0 248.6,247.0 249.3,247.0 250.0,247.0 250.7,247.0 251.4,247.0 252.1,247.0 252.8,247.0 253.5,247.0 254.2,247.0 254.9,247.0 255.6,247.0 256.3,247.0 257.0,247.0 257.7,247.0 258.4,247.0 259.1,247.0 259.8,247.0 260.5,247.0 261.2,247.0 261.9,247.0 262.6,247.0 263.3,247.0 264.0,247.0 264.7,247.0 265.4,247.0 266.1,247.0 266.8,247.0 267.5,247.0 268.2,247.0 268.6,247.0 268.9,238.8 269.6,219.7 269.8,214.3 270.3,222.2 271.0,230.2 271.7,235.6 272.4,239.3 273.1,241.8 273.8,243.5 274.5,244.6 275.2,245.4 275.9,245.9 276.6,246.3 277.3,246.5 278.0,246.7 278.7,246.8 279.4,246.8 280.1,246.9 280.8,246.9 281.5,247.0 282.2,247.0 282.9,247.0 283.6,247.0 284.3,247.0 285.0,247.0 285.7,247.0 286.4,247.0 287.1,247.0 287.8,247.0 288.5,247.0 289.2,247.0 289.9,247.0 290.6,247.0 291.1,247.0 291.3,243.4 292.0,230.9 292.3,225.5 292.7,230.3 293.4,236.2 294.1,240.0 294.8,242.5 295.5,244.1 296.2,245.1 296.9,245.8 297.6,246.2 298.3,246.5 299.0,246.7 299.7,246.8" fill="none" stroke="#1010e0" stroke-width="2.2" stroke-linejoin="round" />
<polyline points="56.5,246.7 57.8,246.2 59.1,244.9 60.4,244.3 61.7,244.5 63.0,245.6 64.3,244.7 65.6,244.3 66.9,243.6 68.2,246.8 69.5,245.5 70.8,246.2 72.1,245.9 73.4,246.6 74.7,244.7 76.0,243.9 77.3,245.5 78.6,243.7 79.9,245.0 81.2,243.5 82.5,246.8 83.8,244.1 85.1,246.9 86.4,244.3 87.7,243.3 89.0,243.7 90.3,243.6 91.6,246.0 92.9,246.1 94.2,246.6 95.5,244.9 96.8,246.2 98.1,245.0 99.4,245.2 100.7,244.1 102.0,246.6 103.3,246.8 104.6,246.7 105.9,245.5 107.2,245.4 108.5,244.0 109.8,243.4 111.1,243.2 112.4,243.6 113.7,245.5 115.0,243.6 116.3,245.0 117.6,246.4 118.9,243.5 120.2,245.5 121.5,245.5 122.8,245.3 124.1,243.5 125.4,244.2 126.7,243.4 128.0,243.4 129.3,243.2 130.6,246.6 131.9,245.8 133.2,246.6 134.5,245.4 135.8,246.8 137.1,244.5 138.4,243.3 139.7,246.3 141.0,244.2 142.3,244.4 143.6,240.6 144.9,241.6 146.2,241.9 147.5,242.5 148.8,241.0 150.1,240.4 151.4,240.6 152.7,243.1 154.0,242.7 155.3,244.2 156.6,243.5 157.9,244.3 159.2,245.3 160.5,245.5 161.8,246.7 163.1,244.9 164.4,245.7 165.7,244.1 167.0,245.3 168.3,245.3 169.6,243.4 170.9,246.2 172.2,244.7 173.5,244.9 174.8,244.2 176.1,245.2 177.4,244.9 178.7,246.1 180.0,243.3 181.3,244.7 182.6,243.5 183.9,245.0 185.2,243.6 186.5,244.6 187.8,245.1 189.1,246.7 190.4,245.2 191.7,243.2 193.0,246.2 194.3,243.6 195.6,244.1 196.9,244.9 198.2,244.8 199.5,245.6 200.8,243.8 202.1,243.6 203.4,245.9 204.7,244.8 206.0,244.9 207.3,244.5 208.6,245.9 209.9,244.6 211.2,246.8 212.5,246.1 213.8,243.1 215.1,243.9 216.4,245.1 217.7,246.4 219.0,246.4 220.3,245.1 221.6,245.6 222.9,245.6 224.2,246.9 225.5,245.5 226.8,246.0 228.1,243.8 229.4,245.5 230.7,243.1 232.0,243.3 233.3,246.0 234.6,246.0 235.9,245.2 237.2,244.7 238.5,243.2 239.8,243.9 241.1,243.8 242.4,246.4 243.7,244.1 245.0,245.4 246.3,245.4 247.6,246.3 248.9,245.5 250.2,245.9 251.5,246.6 252.8,245.7 254.1,243.7 255.4,243.9 256.7,245.5 258.0,244.4 259.3,244.7 260.6,244.5 261.9,244.4 263.2,246.1 264.5,244.8 265.8,244.2 267.1,244.5 268.4,244.3 269.7,244.6 271.0,243.1 272.3,246.1 273.6,244.0 274.9,245.6 276.2,243.6 277.5,245.4 278.8,245.3 280.1,243.5 281.4,246.5 282.7,245.7 284.0,245.4 285.3,245.5 286.6,244.0 287.9,246.9 289.2,246.1 290.5,246.5 291.8,246.2 293.1,243.4 294.4,243.5 295.7,246.3 297.0,246.6 298.3,243.7 299.6,246.7 300.9,245.6 302.2,243.7 303.5,243.2 304.8,243.4 306.1,243.4 307.4,244.6 308.7,243.6 310.0,244.7 311.3,244.6 312.6,244.2 313.9,246.8 315.2,244.2 316.5,245.4 317.8,245.7 319.1,246.5 320.4,243.6 321.7,243.2 323.0,243.3 324.3,246.4 325.6,243.4 326.9,244.4 328.2,243.6 329.5,246.8 330.8,245.6 332.1,244.9 333.4,243.9 334.7,246.0 336.0,243.6 337.3,246.8 338.6,244.2 339.9,245.0 341.2,246.1 342.5,245.7 343.8,245.3 345.1,244.4 346.4,245.6 347.7,245.9 349.0,243.9 350.3,243.6 351.6,243.8 352.9,243.2 354.2,244.5 355.5,244.2 356.8,246.3 358.1,244.3 359.4,245.1 360.7,246.8 362.0,243.8 363.3,244.4 364.6,244.5 365.9,243.3 367.2,246.1 368.5,244.3 369.8,244.9 371.1,246.3 372.4,243.8 373.7,245.2 375.0,244.0 376.3,245.1" fill="none" stroke="#111" stroke-width="1.1" stroke-linejoin="round" />
<polyline points="56.5,72.9 58.5,73.8 60.3,85.2 62.0,77.3 64.7,79.0 66.4,82.6 69.1,86.1 71.7,85.2 73.5,88.7 75.2,78.2 77.0,66.7 77.9,76.4 80.5,76.4 83.2,80.8 85.8,86.1 88.5,92.3 91.1,94.9 92.9,97.5 94.6,92.3 96.4,86.1 99.9,80.8 102.5,82.6 105.2,91.4 107.8,94.0 109.6,94.9 111.3,88.7 114.0,83.5 116.6,82.6 119.3,76.4 121.0,77.3 122.8,87.0 125.4,89.6 128.1,90.5 130.7,87.9 133.3,86.1 136.0,81.7 137.7,84.3 140.4,87.0 141.5,90.0 142.6,95.0 143.6,99.3 144.3,106.3 145.0,116.2 145.7,123.2 146.5,120.4 147.2,109.1 147.9,103.5 148.6,102.1 150.0,100.7 151.4,102.1 152.1,106.3 152.8,109.1 153.5,110.5 154.2,111.9 154.9,113.4 155.6,114.8 156.3,116.2 157.7,117.6 158.0,116.7 159.4,118.6 160.8,117.5 162.2,117.8 163.6,118.0 165.0,117.9 166.4,120.4 167.8,121.5 169.2,123.2 170.6,123.8 172.0,121.9 173.4,121.0 174.8,122.2 176.2,121.2 177.6,124.3 179.0,123.2 180.4,123.9 181.8,122.4 183.2,123.3 184.6,122.6 186.0,123.7 187.4,123.6 188.8,121.9 190.2,120.7 191.6,120.6 193.0,120.8 194.4,122.6 195.8,118.7 197.2,118.3 198.6,121.1 200.0,120.3 201.4,123.3 202.8,119.7 204.2,119.3 205.6,119.3 207.0,119.0 208.4,116.6 209.8,116.7 211.2,119.8 212.6,116.4 214.0,118.2 215.4,119.2 216.8,122.4 218.2,121.4 219.6,119.7 221.0,118.3 222.4,118.5 223.8,119.7 225.2,118.4 226.6,117.8 228.0,114.1 229.4,116.4 230.8,124.5 232.2,122.6 233.6,118.5 235.0,117.6 236.4,118.0 237.8,119.9 239.2,124.6 240.6,126.1 242.0,123.0 243.4,119.0 244.8,122.7 246.2,125.1 247.6,121.4 249.0,120.5 250.4,122.1 251.8,122.9 253.2,120.6 254.6,122.2 256.0,122.7 257.4,120.4 260.0,112.7 261.4,121.1 262.8,122.5 264.2,121.8 265.6,122.5 267.0,126.8 268.5,109.9 269.9,109.9 271.3,114.1 272.7,122.5 274.1,128.2 275.5,122.5 276.9,126.8 278.3,129.6 279.7,123.9 280.4,121.1 281.1,125.4 282.5,128.2 283.9,126.8 285.4,129.6 286.8,127.5 288.2,125.4 289.6,124.6 291.0,122.5 292.4,119.0 293.8,119.0 295.2,121.1 296.6,120.4 298.0,125.4 299.4,126.8 300.8,128.2 302.3,129.6 303.7,130.3 305.1,133.1 306.5,129.6 307.9,126.8 308.6,131.0 309.3,123.2 310.0,128.2 310.7,122.5 312.1,131.0 313.5,123.9 314.2,133.8 314.9,135.2 315.6,128.2 316.3,126.8 317.0,129.6 317.7,126.1 318.5,123.9 319.2,131.0 319.9,126.8 320.6,118.3 321.3,123.9 322.0,128.2 323.4,126.8 324.8,129.6 326.2,128.2 327.6,129.6 329.0,126.8 330.4,116.9 331.8,112.7 333.2,109.9 333.9,105.6 334.6,100.0 335.9,97.6 337.6,92.3 338.5,90.6 339.4,94.1 340.3,99.4 341.1,102.9 342.9,104.6 344.7,99.4 346.4,98.5 348.2,100.2 349.9,97.6 351.7,94.1 353.5,96.7 355.2,100.2 357.0,97.6 358.7,96.7 360.5,99.4 362.3,97.6 364.0,96.7 365.8,102.0 367.5,104.6 369.3,98.5 371.1,96.7 372.8,95.8 374.6,97.6 376.5,99.4" fill="none" stroke="#000" stroke-width="2.6" stroke-linejoin="round" />
<polyline points="143.4,4.6 146.8,4.6 148.0,6.5 149.2,4.6 151.1,4.6 152.3,5.5 153.5,4.6 164.8,4.6 166.0,5.5 167.2,4.6 170.3,4.6 171.5,14.8 173.3,11.1 175.2,16.0 176.4,4.6 176.8,4.6 178.0,6.0 180.0,6.5 181.2,4.6 181.4,4.6 182.6,14.8 183.8,18.5 185.0,4.6 186.3,4.6 187.5,7.4 188.7,4.6 189.3,4.6 190.5,6.5 191.7,4.6 193.1,4.6 194.3,19.8 195.5,4.6 196.3,4.6 197.5,6.5 198.7,4.6 200.5,4.6 201.7,12.3 202.9,4.6 203.0,4.6 204.2,16.0 206.0,13.6 207.2,4.6 207.3,4.6 208.5,9.9 210.3,7.0 212.2,30.9 213.4,4.6 213.5,4.6 214.7,12.3 215.9,4.6 216.0,4.6 217.2,24.7 218.4,4.6 218.4,4.6 219.6,11.1 220.8,4.6 220.9,4.6 222.1,13.6 223.3,4.6 224.0,4.6 225.2,12.3 227.0,9.9 228.2,4.6 228.3,4.6 229.5,16.0 230.7,4.6 230.8,4.6 232.0,9.9 233.2,4.6 233.2,4.6 234.4,17.3 235.6,4.6 236.3,4.6 237.5,11.1 239.5,9.7 241.5,6.0 243.0,7.9 244.2,4.6 245.4,4.6 246.6,7.0 247.8,4.6 248.9,4.6 250.1,7.0 251.8,10.6 253.6,16.7 254.8,4.6 255.0,4.6 256.2,9.7 257.4,4.6 258.6,4.6 259.8,7.9 261.0,4.6 262.1,4.6 263.3,7.0 264.5,4.6 265.6,4.6 266.8,7.9 268.0,4.6 270.0,4.6 271.2,7.9 272.4,4.6 273.5,4.6 274.7,8.8 275.9,4.6 277.1,4.6 278.3,7.9 279.5,4.6 280.2,4.6 281.4,10.6 282.6,4.6 283.2,4.6 284.4,7.0 285.6,4.6 286.8,4.6 288.0,13.2 289.2,4.6 290.3,4.6 291.5,7.9 292.7,4.6 293.8,4.6 295.0,7.0 296.2,4.6 297.3,4.6 298.5,7.9 299.7,4.6 301.7,4.6 302.9,7.0 304.1,4.6 329.3,4.6 330.5,7.0 331.7,4.6 376.5,4.6" fill="none" stroke="#0a0aff" stroke-width="1.5" stroke-linejoin="round" />
<polyline points="146.5,102.1 147.4,110.0 147.9,116.2 148.6,112.0 149.3,116.2 150.0,110.0 150.5,104.0" fill="none" stroke="#000" stroke-width="1.8" stroke-linejoin="round" />
<polyline points="143.4,159.7 157.4,159.7" fill="none" stroke="#111" stroke-width="1.0" stroke-linejoin="round" />
<polyline points="150.4,159.7 156.8,152.8" fill="none" stroke="#111" stroke-width="1.0" stroke-linejoin="round" />
</g>
<g clip-path="url(#cr)">
<polygon points="381.8,193.5 383.8,190.7 386.6,196.3 389.5,187.9 392.3,173.8 393.7,156.9 395.1,145.6 396.5,128.0 397.7,150.0 399.5,192.0 400.7,190.7 403.5,185.1 406.4,182.3 409.2,187.9 412.0,182.3 414.8,171.0 416.2,165.4 417.6,176.6 418.5,162.8 420.3,166.3 422.0,155.8 423.8,162.8 425.0,145.0 426.1,131.0 427.3,150.0 429.1,155.8 430.8,162.8 432.6,159.3 434.4,166.3 436.1,155.8 437.9,145.2 439.6,159.3 441.4,152.3 443.2,162.8 444.9,155.8 446.7,162.8 448.5,152.3 450.2,155.8 452.0,145.2 453.7,138.2 455.5,131.1 457.3,124.1 458.3,117.0 459.7,131.1 460.8,145.2 462.5,134.6 464.3,124.1 464.3,148.7 462.5,159.3 460.8,166.3 459.0,152.3 457.3,155.8 455.5,162.8 453.7,166.3 452.0,176.9 450.2,180.4 448.5,191.0 446.7,198.0 443.2,187.5 439.6,176.9 436.1,183.9 434.4,191.0 432.6,180.4 430.8,187.5 429.1,176.9 425.6,191.0 423.8,180.4 422.0,191.0 418.5,180.4 417.6,190.7 415.5,191.0 414.8,185.1 412.0,193.5 409.2,200.6 406.4,196.3 403.5,193.5 400.7,199.2 399.5,200.0 397.7,165.0 396.5,148.0 395.1,160.0 393.7,178.0 392.3,200.0 389.5,199.2 386.6,202.0 383.8,194.9 381.8,199.2" fill="#c3c3c3" stroke="none" stroke-width="0" />
<polygon points="482.6,50.0 484.0,44.8 485.5,40.5 487.0,37.3 488.5,32.0 490.0,36.9 491.5,46.3 493.0,55.8 494.5,59.4 496.0,62.5 497.5,60.8 499.0,55.2 500.5,50.7 502.0,44.6 503.5,41.4 505.0,40.9 506.5,41.3 508.0,40.8 509.5,41.6 511.0,43.6 512.5,41.4 514.0,40.0 515.5,36.2 517.0,33.6 518.5,37.8 520.0,40.0 521.5,42.8 523.0,46.2 524.5,44.6 526.0,49.7 527.5,51.5 529.0,51.6 530.5,54.3 532.0,54.0 533.5,51.1 535.0,54.4 536.5,59.6 538.0,51.5 539.5,45.5 541.0,38.4 542.5,36.6 544.0,35.9 545.5,39.1 547.0,41.5 548.5,36.8 550.0,33.1 551.5,35.6 553.0,38.0 554.5,41.9 556.0,42.6 557.5,39.7 559.0,40.9 560.5,39.6 562.0,35.8 563.5,32.9 565.0,28.8 566.5,27.8 568.0,35.7 569.5,40.9 571.0,38.2 572.5,37.5 574.0,42.7 575.5,46.5 577.0,42.2 578.5,45.1 580.0,48.2 581.5,51.0 583.0,49.5 584.5,50.2 586.0,53.5 587.5,49.0 589.0,50.2 590.5,50.8 592.0,47.4 593.5,50.7 595.0,51.5 596.5,48.4 598.0,46.6 599.5,44.0 601.0,39.4 602.5,44.3 604.0,43.7 605.5,46.7 607.0,50.3 608.5,54.7 610.0,58.8 611.5,59.3 613.0,58.5 614.5,59.7 616.0,62.6 617.5,64.6 619.0,67.4 620.5,69.9 622.0,66.7 623.5,67.3 625.0,66.7 626.5,69.0 628.0,68.8 629.5,65.7 631.0,64.7 632.5,69.6 634.0,77.0 635.5,79.9 637.0,79.9 638.5,81.2 640.0,78.8 641.5,77.1 643.0,81.1 644.5,86.4 646.0,90.2 647.5,95.8 649.0,100.2 650.3,102.3 652.1,95.2 652.9,89.9 653.8,98.7 654.7,110.6 656.5,117.6 658.2,107.0 660.0,119.4 661.7,122.9 663.5,121.1 665.3,126.4 667.0,133.5 668.8,122.9 670.5,115.8 672.3,114.1 674.1,117.6 675.8,110.6 677.6,108.8 679.3,117.6 681.1,112.3 682.9,122.9 684.6,128.2 686.4,129.9 688.1,135.2 689.9,144.0 691.7,147.5 693.4,142.3 695.2,137.0 697.0,130.8 698.7,137.0 700.5,144.0 701.8,142.0 701.8,141.0 700.5,140.4 699.4,136.1 698.3,129.8 697.3,131.9 695.2,138.3 693.0,142.5 692.0,148.8 690.9,153.1 689.9,148.8 688.8,144.6 686.7,140.4 685.7,138.3 684.6,136.1 683.5,131.9 682.5,127.7 681.4,123.5 680.4,121.3 678.3,119.2 676.1,117.1 674.0,119.2 671.9,117.1 669.8,119.2 667.7,127.7 666.6,135.1 665.6,129.8 663.5,125.6 661.3,123.5 657.1,121.3 655.0,119.2 653.8,109.3 652.1,104.0 650.3,107.5 649.0,105.1 647.5,105.4 646.0,103.9 644.5,98.5 643.0,97.4 641.5,101.2 640.0,98.5 638.5,92.4 637.0,94.7 635.5,98.5 634.0,100.2 632.5,93.3 631.0,92.0 629.5,88.1 628.0,83.6 626.5,82.9 625.0,81.6 623.5,79.5 622.0,81.4 620.5,83.4 619.0,84.7 617.5,90.6 616.0,90.2 614.5,87.7 613.0,83.7 611.5,77.4 610.0,74.3 608.5,71.2 607.0,73.2 605.5,73.9 604.0,75.5 602.5,74.4 601.0,69.8 599.5,70.0 598.0,69.3 596.5,68.6 595.0,66.5 593.5,66.1 592.0,66.1 590.5,68.2 589.0,68.4 587.5,69.4 586.0,65.5 584.5,69.4 583.0,71.0 581.5,66.5 580.0,67.0 578.5,70.4 577.0,80.8 575.5,71.5 574.0,66.0 572.5,63.6 571.0,65.2 569.5,69.0 568.0,62.4 566.5,59.5 565.0,58.7 563.5,61.0 562.0,65.0 560.5,72.7 559.0,65.2 557.5,62.6 556.0,64.0 554.5,65.6 553.0,67.9 551.5,60.2 550.0,60.9 548.5,59.9 547.0,61.4 545.5,63.6 544.0,62.5 542.5,63.3 541.0,65.4 539.5,68.8 538.0,74.2 536.5,74.5 535.0,69.2 533.5,69.3 532.0,68.4 530.5,66.3 529.0,64.7 527.5,66.8 526.0,63.3 524.5,63.6 523.0,66.4 521.5,70.1 520.0,66.9 518.5,67.9 517.0,69.5 515.5,68.2 514.0,70.0 512.5,71.2 511.0,71.5 509.5,71.1 508.0,72.7 506.5,76.6 505.0,78.2 503.5,79.7 502.0,82.3 500.5,82.9 499.0,81.2 497.5,78.6 496.0,80.1 494.5,79.5 493.0,79.1 491.5,77.5 490.0,80.9 488.5,79.8 487.0,78.1 485.5,72.7 484.0,68.8 482.6,70.0" fill="#c3c3c3" stroke="none" stroke-width="0" />
<polyline points="478.0,60.0 479.0,85.0 480.5,110.0 479.5,145.0" fill="none" stroke="#666" stroke-width="0.9" stroke-linejoin="round" />
<polyline points="472.0,72.0 473.5,90.0 475.0,118.0 474.0,150.0" fill="none" stroke="#666" stroke-width="0.9" stroke-linejoin="round" />
<polyline points="467.0,88.0 468.0,100.0 469.5,120.0 468.0,150.0" fill="none" stroke="#555" stroke-width="0.9" stroke-linejoin="round" />
<polygon points="464.6,95.0 467.0,88.0 470.0,78.0 473.0,70.0 476.0,64.0 479.0,60.0 482.6,55.0 482.6,150.0 478.0,155.0 470.0,158.5 465.0,158.5 464.6,140.0" fill="#b6b6b6" stroke="none" stroke-width="0" />
<polyline points="381.8,193.5 383.8,190.7 386.6,196.3 389.5,187.9 392.3,173.8 393.7,156.9 395.1,145.6 396.5,128.0 397.7,150.0 399.5,192.0 400.7,190.7 403.5,185.1 406.4,182.3 409.2,187.9 412.0,182.3 414.8,171.0 416.2,165.4 417.6,176.6 418.5,162.8 420.3,166.3 422.0,155.8 423.8,162.8 425.0,145.0 426.1,131.0 427.3,150.0 429.1,155.8 430.8,162.8 432.6,159.3 434.4,166.3 436.1,155.8 437.9,145.2 439.6,159.3 441.4,152.3 443.2,162.8 444.9,155.8 446.7,162.8 448.5,152.3 450.2,155.8 452.0,145.2 453.7,138.2 455.5,131.1 457.3,124.1 458.3,117.0 459.7,131.1 460.8,145.2 462.5,134.6 464.3,124.1" fill="none" stroke="#484848" stroke-width="1.0" stroke-linejoin="round" />
<polyline points="381.8,199.2 383.8,194.9 386.6,202.0 389.5,199.2 392.3,200.0 393.7,178.0 395.1,160.0 396.5,148.0 397.7,165.0 399.5,200.0 400.7,199.2 403.5,193.5 406.4,196.3 409.2,200.6 412.0,193.5 414.8,185.1 415.5,191.0 417.6,190.7 418.5,180.4 422.0,191.0 423.8,180.4 425.6,191.0 429.1,176.9 430.8,187.5 432.6,180.4 434.4,191.0 436.1,183.9 439.6,176.9 443.2,187.5 446.7,198.0 448.5,191.0 450.2,180.4 452.0,176.9 453.7,166.3 455.5,162.8 457.3,155.8 459.0,152.3 460.8,166.3 462.5,159.3 464.3,148.7" fill="none" stroke="#484848" stroke-width="1.0" stroke-linejoin="round" />
<polyline points="482.6,50.0 484.0,44.8 485.5,40.5 487.0,37.3 488.5,32.0 490.0,36.9 491.5,46.3 493.0,55.8 494.5,59.4 496.0,62.5 497.5,60.8 499.0,55.2 500.5,50.7 502.0,44.6 503.5,41.4 505.0,40.9 506.5,41.3 508.0,40.8 509.5,41.6 511.0,43.6 512.5,41.4 514.0,40.0 515.5,36.2 517.0,33.6 518.5,37.8 520.0,40.0 521.5,42.8 523.0,46.2 524.5,44.6 526.0,49.7 527.5,51.5 529.0,51.6 530.5,54.3 532.0,54.0 533.5,51.1 535.0,54.4 536.5,59.6 538.0,51.5 539.5,45.5 541.0,38.4 542.5,36.6 544.0,35.9 545.5,39.1 547.0,41.5 548.5,36.8 550.0,33.1 551.5,35.6 553.0,38.0 554.5,41.9 556.0,42.6 557.5,39.7 559.0,40.9 560.5,39.6 562.0,35.8 563.5,32.9 565.0,28.8 566.5,27.8 568.0,35.7 569.5,40.9 571.0,38.2 572.5,37.5 574.0,42.7 575.5,46.5 577.0,42.2 578.5,45.1 580.0,48.2 581.5,51.0 583.0,49.5 584.5,50.2 586.0,53.5 587.5,49.0 589.0,50.2 590.5,50.8 592.0,47.4 593.5,50.7 595.0,51.5 596.5,48.4 598.0,46.6 599.5,44.0 601.0,39.4 602.5,44.3 604.0,43.7 605.5,46.7 607.0,50.3 608.5,54.7 610.0,58.8 611.5,59.3 613.0,58.5 614.5,59.7 616.0,62.6 617.5,64.6 619.0,67.4 620.5,69.9 622.0,66.7 623.5,67.3 625.0,66.7 626.5,69.0 628.0,68.8 629.5,65.7 631.0,64.7 632.5,69.6 634.0,77.0 635.5,79.9 637.0,79.9 638.5,81.2 640.0,78.8 641.5,77.1 643.0,81.1 644.5,86.4 646.0,90.2 647.5,95.8 649.0,100.2 650.3,102.3 652.1,95.2 652.9,89.9 653.8,98.7 654.7,110.6 656.5,117.6 658.2,107.0 660.0,119.4 661.7,122.9 663.5,121.1 665.3,126.4 667.0,133.5 668.8,122.9 670.5,115.8 672.3,114.1 674.1,117.6 675.8,110.6 677.6,108.8 679.3,117.6 681.1,112.3 682.9,122.9 684.6,128.2 686.4,129.9 688.1,135.2 689.9,144.0 691.7,147.5 693.4,142.3 695.2,137.0 697.0,130.8 698.7,137.0 700.5,144.0 701.8,142.0" fill="none" stroke="#484848" stroke-width="1.0" stroke-linejoin="round" />
<polyline points="482.6,70.0 484.0,68.8 485.5,72.7 487.0,78.1 488.5,79.8 490.0,80.9 491.5,77.5 493.0,79.1 494.5,79.5 496.0,80.1 497.5,78.6 499.0,81.2 500.5,82.9 502.0,82.3 503.5,79.7 505.0,78.2 506.5,76.6 508.0,72.7 509.5,71.1 511.0,71.5 512.5,71.2 514.0,70.0 515.5,68.2 517.0,69.5 518.5,67.9 520.0,66.9 521.5,70.1 523.0,66.4 524.5,63.6 526.0,63.3 527.5,66.8 529.0,64.7 530.5,66.3 532.0,68.4 533.5,69.3 535.0,69.2 536.5,74.5 538.0,74.2 539.5,68.8 541.0,65.4 542.5,63.3 544.0,62.5 545.5,63.6 547.0,61.4 548.5,59.9 550.0,60.9 551.5,60.2 553.0,67.9 554.5,65.6 556.0,64.0 557.5,62.6 559.0,65.2 560.5,72.7 562.0,65.0 563.5,61.0 565.0,58.7 566.5,59.5 568.0,62.4 569.5,69.0 571.0,65.2 572.5,63.6 574.0,66.0 575.5,71.5 577.0,80.8 578.5,70.4 580.0,67.0 581.5,66.5 583.0,71.0 584.5,69.4 586.0,65.5 587.5,69.4 589.0,68.4 590.5,68.2 592.0,66.1 593.5,66.1 595.0,66.5 596.5,68.6 598.0,69.3 599.5,70.0 601.0,69.8 602.5,74.4 604.0,75.5 605.5,73.9 607.0,73.2 608.5,71.2 610.0,74.3 611.5,77.4 613.0,83.7 614.5,87.7 616.0,90.2 617.5,90.6 619.0,84.7 620.5,83.4 622.0,81.4 623.5,79.5 625.0,81.6 626.5,82.9 628.0,83.6 629.5,88.1 631.0,92.0 632.5,93.3 634.0,100.2 635.5,98.5 637.0,94.7 638.5,92.4 640.0,98.5 641.5,101.2 643.0,97.4 644.5,98.5 646.0,103.9 647.5,105.4 649.0,105.1 650.3,107.5 652.1,104.0 653.8,109.3 655.0,119.2 657.1,121.3 661.3,123.5 663.5,125.6 665.6,129.8 666.6,135.1 667.7,127.7 669.8,119.2 671.9,117.1 674.0,119.2 676.1,117.1 678.3,119.2 680.4,121.3 681.4,123.5 682.5,127.7 683.5,131.9 684.6,136.1 685.7,138.3 686.7,140.4 688.8,144.6 689.9,148.8 690.9,153.1 692.0,148.8 693.0,142.5 695.2,138.3 697.3,131.9 698.3,129.8 699.4,136.1 700.5,140.4 701.8,141.0" fill="none" stroke="#484848" stroke-width="1.0" stroke-linejoin="round" />
<polyline points="482.6,55.3 484.2,50.0 485.8,53.7 487.4,50.3 489.0,48.5 490.6,56.8 492.2,69.0 493.8,71.6 495.4,73.4 497.0,65.5 498.6,67.9 500.2,62.4 501.8,57.5 503.4,53.3 505.0,53.7 506.6,63.0 508.2,59.7 509.8,59.5 511.4,60.0 513.0,50.1 514.6,49.7 516.2,52.0 517.8,53.9 519.4,56.8 521.0,59.4 522.6,49.4 524.2,55.1 525.8,57.9 527.4,58.3 529.0,53.0 530.6,59.4 532.2,54.6 533.8,65.7 535.4,67.6 537.0,65.4 538.6,56.6 540.2,59.2 541.8,50.6 543.4,53.5 545.0,54.2 546.6,50.5 548.2,46.6 549.8,47.2 551.4,45.7 553.0,46.7 554.6,49.8 556.2,56.3 557.8,44.0 559.4,46.2 561.0,54.4 562.6,44.5 564.2,44.5 565.8,41.8 567.4,43.3 569.0,58.6 570.6,46.9 572.2,48.3 573.8,48.5 575.4,59.3 577.0,56.4 578.6,54.5 580.2,60.3 581.8,55.7 583.4,59.9 585.0,64.5 586.6,53.0 588.2,52.1 589.8,54.7 591.4,60.7 593.0,58.6 594.6,54.4 596.2,55.3 597.8,52.4 599.4,55.2 601.0,46.7 602.6,60.6 604.2,63.7 605.8,65.6 607.4,64.3 609.0,69.8 610.6,59.7 612.2,65.6 613.8,77.7 615.4,77.8 617.0,74.6 618.6,81.7 620.2,77.5 621.8,78.1 623.4,69.9 625.0,69.0 626.6,74.5 628.2,70.4 629.8,74.4 631.4,84.3 633.0,80.3 634.6,80.9 636.2,81.1 637.8,81.8 639.4,91.1 641.0,86.0 642.6,85.4 644.2,85.5 645.8,102.5 647.4,98.8 649.0,100.2 650.6,101.1 652.2,94.5 653.8,98.8 655.4,118.6 657.0,114.5 658.6,109.8 660.2,121.1 661.8,122.8 663.4,125.5 665.0,125.5 666.6,133.7 668.2,126.4 669.8,118.7 671.4,117.6 673.0,116.4 674.6,115.5 676.2,112.1 677.8,109.8 679.4,117.6 681.0,113.6 682.6,128.1 684.2,134.6 685.8,133.4 687.4,133.0 689.0,139.6 690.6,145.4 692.2,146.0 693.8,141.0 695.4,137.7 697.0,130.8 698.6,131.5 700.2,142.8" fill="none" stroke="#484848" stroke-width="1.0" stroke-linejoin="round" />
<polyline points="381.8,193.5 383.4,195.8 385.0,193.0 386.6,201.5 388.2,191.8 389.8,189.9 391.4,195.1 393.0,174.4 394.6,160.3 396.2,141.2 397.8,158.0 399.4,192.7 401.0,190.8 402.6,195.2 404.2,184.5 405.8,186.1 407.4,185.2 409.0,191.0 410.6,190.1 412.2,192.2 413.8,180.3 415.4,174.6 417.0,178.2 418.6,177.6 420.2,170.5 421.8,175.2 423.4,170.6 425.0,168.4 426.6,160.7 428.2,169.0 429.8,169.7 431.4,175.3 433.0,176.4 434.6,178.9 436.2,165.4 437.8,158.1 439.4,172.7 441.0,167.3 442.6,168.6 444.2,180.0 445.8,178.1 447.4,180.0 449.0,175.3 450.6,164.2 452.2,158.6 453.8,156.6 455.4,143.0 457.0,144.5 458.6,131.5 460.2,151.3 461.8,153.3 463.4,147.4" fill="none" stroke="#484848" stroke-width="1.0" stroke-linejoin="round" />
<polyline points="482.6,60.1 484.2,63.8 485.8,65.1 487.4,70.2 489.0,63.9 490.6,65.4 492.2,72.3 493.8,74.4 495.4,72.3 497.0,75.6 498.6,72.3 500.2,76.1 501.8,67.5 503.4,65.6 505.0,71.0 506.6,64.4 508.2,60.6 509.8,65.5 511.4,64.2 513.0,58.3 514.6,60.6 516.2,60.3 517.8,55.5 519.4,60.4 521.0,57.1 522.6,59.1 524.2,54.2 525.8,56.1 527.4,66.6 529.0,59.8 530.6,66.5 532.2,63.4 533.8,65.1 535.4,69.9 537.0,71.0 538.6,61.3 540.2,60.6 541.8,57.6 543.4,51.7 545.0,51.6 546.6,59.4 548.2,53.6 549.8,49.6 551.4,52.4 553.0,56.1 554.6,61.4 556.2,57.4 557.8,52.2 559.4,62.4 561.0,56.5 562.6,52.6 564.2,46.6 565.8,52.3 567.4,48.8 569.0,58.8 570.6,53.9 572.2,55.8 573.8,60.4 575.4,64.0 577.0,68.8 578.6,62.6 580.2,60.8 581.8,63.4 583.4,60.3 585.0,62.8 586.6,59.8 588.2,66.8 589.8,67.4 591.4,57.2 593.0,57.6 594.6,63.9 596.2,63.1 597.8,57.7 599.4,64.3 601.0,65.1 602.6,64.6 604.2,64.4 605.8,66.5 607.4,70.7 609.0,65.0 610.6,68.6 612.2,70.8 613.8,79.1 615.4,80.6 617.0,80.1 618.6,79.3 620.2,74.7 621.8,75.4 623.4,79.6 625.0,78.0 626.6,76.6 628.2,83.8 629.8,80.5 631.4,82.0 633.0,83.9 634.6,89.6 636.2,88.7 637.8,86.9 639.4,94.9 641.0,91.2 642.6,90.4 644.2,95.4 645.8,103.2 647.4,100.3 649.0,105.1 650.6,103.9 652.2,102.0 653.8,107.1 655.4,119.6 657.0,121.2 658.6,118.5 660.2,122.9 661.8,122.8 663.4,123.1 665.0,128.6 666.6,134.6 668.2,126.4 669.8,118.7 671.4,117.6 673.0,118.2 674.6,115.5 676.2,117.2 677.8,115.7 679.4,117.8 681.0,117.2 682.6,122.1 684.2,129.3 685.8,137.7 687.4,135.6 689.0,141.2 690.6,149.3 692.2,147.5 693.8,141.0 695.4,137.7 697.0,130.8 698.6,131.7 700.2,139.6" fill="none" stroke="#484848" stroke-width="1.0" stroke-linejoin="round" />
<polyline points="464.6,3.5 464.6,248.5" fill="none" stroke="#9a9a9a" stroke-width="1.1" stroke-linejoin="round" />
<polyline points="482.6,3.5 482.6,248.5" fill="none" stroke="#9a9a9a" stroke-width="1.1" stroke-linejoin="round" />
<polyline points="381.8,58.1 701.8,58.1" fill="none" stroke="#f05050" stroke-width="1.1" stroke-linejoin="round" stroke-dasharray="4.4,5.6"/>
<polyline points="381.8,101.3 701.8,101.3" fill="none" stroke="#333" stroke-width="1.0" stroke-linejoin="round" stroke-dasharray="4.4,5.6"/>
<polyline points="381.8,211.5 701.8,211.5" fill="none" stroke="#4a9a4a" stroke-width="1.1" stroke-linejoin="round" stroke-dasharray="4.4,5.6"/>
<polyline points="381.8,122.9 382.8,121.1 384.5,126.4 386.3,123.8 388.0,135.2 389.8,137.9 391.6,131.7 393.3,117.6 394.2,100.0 394.6,75.0 395.0,59.4 396.0,54.1 397.7,55.8 398.6,62.9 399.2,97.3 400.6,91.6 402.0,111.3 403.5,94.4 404.9,108.5 406.3,97.3 407.7,119.8 409.1,102.9 410.5,114.2 411.9,100.1 413.3,122.6 414.7,105.7 416.1,111.3 417.5,97.3 418.9,83.2 420.4,94.4 421.8,77.5 423.2,71.9 424.6,86.0 426.0,63.5 427.4,83.2 428.8,88.8 430.2,77.5 431.6,94.4 433.0,83.2 434.4,91.6 435.8,100.1 437.3,80.4 438.7,71.9 440.1,88.8 441.5,97.3 442.9,83.2 444.0,80.4 445.3,93.4 447.0,100.4 448.8,89.9 450.6,96.9 452.3,93.4 454.1,82.8 455.8,68.7 456.9,65.2 458.3,72.3 459.4,65.2 461.1,75.8 462.9,82.8 464.6,68.7 466.4,63.5 468.2,59.9 469.9,58.2 471.7,56.4 473.5,58.2 475.2,54.6 477.0,56.4 478.7,51.1 480.5,54.6 482.3,47.6 484.0,44.1 485.5,42.0 486.0,43.1 487.5,46.4 489.0,47.7 490.5,49.9 492.0,49.6 493.5,49.6 495.0,49.3 496.5,48.3 498.0,50.3 499.5,45.1 501.0,43.8 502.5,43.8 504.0,36.9 505.5,32.9 507.0,34.9 508.5,34.3 510.0,36.5 511.5,33.8 513.0,29.5 514.5,25.7 516.0,24.0 517.5,26.0 519.0,26.8 520.5,29.1 522.0,28.7 523.5,24.6 525.0,27.7 526.5,30.5 528.0,35.6 529.5,32.4 531.0,31.3 532.5,31.1 534.0,36.0 535.5,38.2 537.0,35.8 538.5,34.4 540.0,30.0 541.5,27.4 543.0,27.1 544.5,22.8 546.0,21.7 547.5,19.8 549.0,21.1 550.5,20.9 552.0,17.4 553.5,23.4 555.0,25.1 556.5,25.9 558.0,27.0 559.5,29.8 561.0,28.7 562.5,27.8 564.0,16.9 565.5,18.1 567.0,20.5 568.5,24.6 570.0,29.9 571.5,23.3 573.0,21.1 574.5,19.3 576.0,26.9 577.5,33.3 579.0,36.4 580.0,35.0" fill="none" stroke="#f02020" stroke-width="0.9" stroke-linejoin="round" />
<polyline points="398.6,100.0 399.2,111.3 400.6,122.6 402.0,105.7 403.5,128.2 404.9,111.3 406.3,125.4 407.7,108.5 409.1,131.1 410.5,117.0 411.9,128.2 413.3,111.3 414.7,122.6 416.1,102.9 417.5,111.3 418.9,94.4 420.4,100.1 421.8,86.0 423.2,77.5 424.6,66.3 426.0,60.6 427.4,71.9 428.8,91.6 430.2,102.9 431.6,83.2 433.0,97.3 434.4,86.0 435.8,80.4 437.3,97.3 438.7,77.5 440.1,83.2 441.5,91.6 442.9,77.5 445.0,86.0 447.0,98.0 448.8,88.0 450.6,95.0 452.3,91.0 454.1,80.0 455.8,66.0 457.6,62.9 459.4,68.0 461.1,73.0 462.9,80.0 464.6,71.7 465.5,66.4 469.0,62.9 472.5,57.6 476.1,55.8 479.6,53.2 481.0,44.0 483.6,37.0 485.4,34.3 486.0,37.5 487.5,37.7 489.0,43.3 490.5,44.9 492.0,48.6 493.5,46.5 495.0,47.4 496.5,45.5 498.0,49.1 499.5,46.1 501.0,43.0 502.5,39.5 504.0,35.3 505.5,29.7 507.0,30.9 508.5,31.1 510.0,33.6 511.5,31.1 513.0,28.3 514.5,25.4 516.0,23.9 517.5,20.5 519.0,24.4 520.5,27.6 522.0,25.8 523.5,24.8 525.0,25.8 526.5,30.6 528.0,34.2 529.5,30.0 531.0,27.1 532.5,30.3 534.0,33.6 535.5,34.8 537.0,34.2 538.5,30.7 540.0,28.9 541.5,26.1 543.0,22.6 544.5,21.8 546.0,19.0 547.5,16.5 549.0,20.5 550.5,17.7 552.0,15.9 553.5,19.4 555.0,22.0 556.5,23.3 558.0,24.8 559.5,28.8 561.0,30.0 562.5,27.6 564.0,18.2 565.5,15.1 567.0,18.0 568.5,22.4 570.0,26.4 571.5,20.4 573.0,16.2 574.5,19.5 576.0,25.9 577.5,34.5 579.0,35.9 580.5,32.1 582.0,34.1 583.5,38.8 585.0,40.0 586.5,37.6 588.0,36.8 589.5,36.5 591.0,34.9 592.5,39.3 594.0,35.9 595.5,37.3 597.0,35.8 599.1,35.6 600.0,34.7 603.2,36.3 606.3,34.7 609.5,39.5 612.7,45.8 615.8,52.2 617.4,56.9 619.0,61.6 620.6,58.5 622.2,60.1 625.3,58.5 628.5,61.6 631.6,64.8 633.2,68.0 634.8,61.6 636.4,60.1 638.0,61.6 639.6,58.5 641.1,64.8 644.3,71.1 645.9,80.6 647.5,74.3 649.1,83.8 650.6,90.1 652.2,80.6 653.8,87.0 655.4,93.3 657.0,96.5 658.5,101.2 660.1,93.3 661.7,96.5 663.3,102.8 664.9,109.1 666.5,104.4 668.0,109.1 669.6,102.8 671.2,98.0 672.8,102.8 674.4,105.9 675.9,93.3 677.5,90.1 679.1,83.8 680.7,96.5 682.3,105.9 683.9,112.3 685.4,109.1 687.0,93.3 688.6,87.0 690.2,96.5 691.8,102.8 693.4,98.0 694.9,101.2 696.5,96.5 698.1,102.8 700.0,99.6 701.8,100.0" fill="none" stroke="#ffa035" stroke-width="0.95" stroke-linejoin="round" />
<polyline points="381.8,224.8 397.5,224.8" fill="none" stroke="#9a3aa8" stroke-width="1.0" stroke-linejoin="round" stroke-dasharray="3,3,1,3"/>
<polyline points="646.3,240.3 648.5,236.8 651.3,236.0 655.0,234.0 658.3,231.1 661.1,228.3 664.0,229.7 668.2,231.8 673.8,231.1 679.4,230.4 685.0,229.7 687.9,226.9 690.7,226.2 701.8,226.2" fill="none" stroke="#9a3aa8" stroke-width="1.0" stroke-linejoin="round" stroke-dasharray="3,2.2"/>
<polyline points="397.5,222.5 405.6,222.5 405.6,219.5 420.0,219.5 421.0,218.3 423.0,219.5 440.0,219.5 441.0,218.3 443.0,219.5 466.0,219.5 469.0,221.0 472.0,224.0 474.6,226.6 478.3,230.3 480.8,235.2 483.5,242.0 486.0,247.0" fill="none" stroke="#9a3aa8" stroke-width="0.9" stroke-linejoin="round" />
<polyline points="381.8,240.5 382.8,242.3 384.5,235.2 386.3,233.5 388.0,244.0 389.8,240.0 391.6,235.2 393.3,233.5 395.1,240.5 396.8,231.7 397.7,215.0 398.6,205.0 399.5,206.0 400.4,218.0 401.2,235.2 402.1,240.5 403.9,233.5 405.6,238.7 407.4,235.2 409.2,231.7 410.9,240.5 412.7,235.2 414.5,240.5 416.2,237.0 418.0,231.7 419.7,238.7 421.5,233.5 423.3,229.9 425.0,235.2 426.8,226.4 427.7,219.4 428.5,229.9 430.3,240.5 432.1,231.7 433.8,224.6 435.6,235.2 437.3,244.0 439.1,224.6 440.9,235.2 442.6,244.0 444.4,226.4 446.1,221.1 447.9,229.9 449.7,221.1 451.4,224.6 453.2,217.6 454.9,226.4 456.7,210.6 458.5,221.1 460.2,210.6 462.0,207.0 462.9,226.4 463.8,240.0 464.6,200.0 465.9,190.2 466.8,176.1 467.7,172.6 468.6,177.9 469.4,176.1 470.3,181.4 471.2,172.6 472.1,169.1 473.0,181.4 473.8,205.0 474.7,190.2 475.6,169.1 477.0,160.3 478.2,165.6 479.1,172.6 480.0,170.8 480.9,181.4 481.8,199.0 482.8,214.1 484.0,215.9 485.2,212.3 486.4,211.6 487.6,215.1 488.8,222.6 490.0,227.8 491.2,232.2 492.4,234.0 493.6,239.3 494.8,234.0 496.0,231.2 497.2,230.7 498.4,231.0 499.6,229.2 500.8,226.4 502.0,218.4 503.2,214.2 504.4,216.6 505.6,222.5 506.8,214.3 508.0,217.2 509.2,220.3 510.4,222.4 511.6,226.5 512.8,235.1 514.0,227.7 515.2,222.4 516.4,218.8 517.6,219.2 518.8,221.7 520.0,228.9 521.2,233.3 522.4,227.5 523.6,224.7 524.8,228.3 526.0,233.1 527.2,234.6 528.4,227.4 529.6,231.2 530.8,233.0 532.0,235.9 533.2,228.7 534.4,229.3 535.6,234.3 536.8,229.6 538.0,230.1 539.2,231.2 540.4,225.4 541.6,231.0 542.8,220.3 544.0,217.1 545.2,220.9 546.4,228.4 547.6,232.5 548.8,232.2 550.0,227.3 551.2,227.7 552.4,230.9 553.6,223.7 554.8,223.9 556.0,230.6 557.2,226.6 558.4,231.8 559.6,233.5 560.8,229.5 562.0,229.2 563.2,234.5 564.4,224.7 565.6,220.4 566.8,220.0 568.0,218.6 569.2,221.4 570.4,227.6 571.6,228.4 572.8,232.7 574.0,226.1 575.2,233.6 576.4,232.3 577.6,234.4 578.8,240.4 580.0,236.6 581.2,238.9 582.4,236.3 583.6,242.4 584.8,238.6 586.0,237.1 587.2,236.6 588.4,237.3 589.6,236.7 590.8,229.5 592.0,230.0 593.2,235.9 594.4,234.0 595.6,232.6 596.8,228.8 598.0,227.5 599.2,229.1 600.4,222.2 601.6,223.6 602.8,227.8 604.0,228.8 605.2,225.4 606.4,219.2 607.6,231.7 608.8,233.1 610.0,233.1 611.2,228.2 612.4,226.1 613.6,223.2 614.8,223.7 616.0,230.4 617.2,232.0 618.4,235.0 619.6,231.1 620.8,235.1 622.0,237.2 623.2,237.2 624.4,241.1 625.6,242.2 626.8,237.8 628.0,238.0 629.2,234.2 630.4,231.7 631.6,225.9 632.8,219.5 634.0,218.0 635.2,221.2 636.4,230.4 637.6,235.2 638.8,236.1 640.0,237.4 641.2,227.8 642.4,226.0 643.6,241.8 644.8,240.4 646.0,244.5 647.2,241.5 648.4,245.5 649.6,245.8 650.8,238.6 652.0,243.7 653.2,238.0 654.4,231.6 655.6,239.9 656.8,239.2 658.0,237.2 659.2,239.3 660.4,242.0 661.6,240.6 662.8,240.8 664.0,245.9 665.2,243.2 666.4,243.1 667.6,242.7 668.8,240.9 670.0,242.2 671.2,241.3 672.4,240.0 673.6,236.6 674.8,239.8 676.0,237.3 677.2,243.4 678.4,239.0 679.6,245.8 680.8,238.4 682.0,236.0 683.2,238.8 684.4,243.1 685.6,241.8 686.8,240.8 688.0,246.9 689.2,242.9 690.4,241.2 691.6,245.4 692.8,246.2 694.0,242.9 695.2,243.3 696.4,244.0 697.6,242.2 698.8,243.3 700.0,243.2 702.0,242.4" fill="none" stroke="#1a8a1a" stroke-width="1.9" stroke-linejoin="round" />
<polyline points="381.8,241.4 416.2,239.6 451.4,237.0 469.0,236.1 481.0,235.2 484.0,238.0 487.0,246.0 490.0,247.4 701.8,247.6" fill="none" stroke="#8a2a9a" stroke-width="1.3" stroke-linejoin="round" />
<polyline points="484.5,247.5 486.3,238.7 488.0,237.0 490.5,239.0 493.3,238.7 496.8,240.5 500.4,237.0 502.1,235.2 503.9,240.5 507.4,244.0 510.9,235.2 512.7,244.0 515.5,246.0 518.9,240.5 521.5,245.0 524.1,238.7 526.8,245.0 530.3,235.2 532.1,241.0 535.6,238.7 537.3,231.7 539.1,241.0 542.6,235.2 544.4,244.0 547.9,235.2 548.7,220.0 549.3,203.5 549.9,220.0 550.5,235.2 553.2,241.0 555.8,237.0 558.5,244.0 561.1,241.0 563.7,246.0 567.3,244.0 570.8,240.5 572.5,235.2 574.3,244.0 577.8,246.0 581.0,245.5 583.0,244.9 586.6,242.3 590.0,245.0 593.6,242.3 597.0,245.0 602.0,246.0 606.0,245.0 607.8,236.0 608.8,215.7 610.0,228.0 611.5,234.0 614.0,238.5 618.0,242.0 625.0,245.3 632.0,246.5 640.0,247.0 701.8,247.5" fill="none" stroke="#22eeee" stroke-width="1.7" stroke-linejoin="round" />
<polyline points="484.0,247.0 484.7,247.0 485.4,247.0 486.1,247.0 486.8,247.0 487.5,247.0 487.8,247.0 488.2,230.0 488.9,200.3 489.0,196.0 489.6,213.2 490.3,225.6 491.0,233.0 491.7,237.5 492.4,240.2 493.1,242.0 493.8,243.1 494.5,243.9 495.2,244.4 495.9,244.8 496.6,245.1 497.3,245.4 498.0,245.6 498.7,245.8 499.4,245.9 500.1,246.0 500.8,246.1 501.5,246.2 502.2,246.3 502.9,246.4 503.6,246.5 504.3,246.5 505.0,246.6 505.7,246.6 506.4,246.7 507.1,246.7 507.8,246.7 508.5,246.8 509.2,246.8 509.9,246.8 510.6,246.8 511.3,246.9 512.0,246.9 512.7,246.9 513.4,246.9 514.1,246.9 514.8,246.9 515.5,246.9 516.2,246.9 516.9,246.9 517.6,246.9 518.3,247.0 519.0,247.0 519.7,247.0 520.4,247.0 521.1,247.0 521.8,247.0 522.5,247.0 523.2,247.0 523.9,247.0 524.6,247.0 525.3,247.0 525.6,247.0 526.0,244.8 526.7,241.0 526.8,240.5 527.4,242.9 528.1,244.6 528.8,245.6 529.5,246.2 530.2,246.5 530.9,246.7 531.6,236.5 532.1,229.0 532.3,231.2 533.0,237.1 533.7,240.8 534.4,243.1 535.1,244.6 535.8,245.5 536.5,246.0 537.2,246.4 537.9,246.6 538.6,246.8 539.3,246.9 540.0,246.9 540.7,246.9 541.4,247.0 542.1,247.0 542.8,247.0 543.5,247.0 544.2,247.0 544.9,247.0 545.6,247.0 546.3,247.0 547.0,247.0 547.7,247.0 548.4,247.0 549.1,247.0 549.8,247.0 550.5,247.0 551.2,247.0 551.9,247.0 552.6,247.0 553.3,247.0 554.0,247.0 554.7,247.0 555.4,247.0 555.5,247.0 556.1,241.1 556.7,235.2 556.8,236.0 557.5,240.3 558.2,243.0 558.9,244.5 559.6,245.5 560.3,246.1 561.0,246.5 561.7,246.7 562.4,246.8 563.1,246.9 563.8,246.9 564.5,247.0 565.2,247.0 565.9,247.0 566.6,247.0 567.3,247.0 568.0,247.0 568.7,247.0 569.4,247.0 570.1,247.0 570.8,247.0 571.5,247.0 572.2,247.0 572.9,247.0 573.6,247.0 574.3,247.0 575.0,247.0 575.7,247.0 576.4,247.0 577.1,247.0 577.8,247.0 578.5,247.0 579.2,247.0 579.9,247.0 580.6,247.0 581.3,247.0 582.0,247.0 582.7,247.0 583.4,247.0 584.1,247.0 584.8,247.0 585.5,247.0 586.2,247.0 586.9,247.0 587.6,247.0 588.0,247.0 588.3,244.5 589.0,238.7 589.2,237.0 589.7,239.8 590.4,242.5 591.1,244.2 591.8,245.2 592.5,245.9 593.2,246.3 593.9,246.6 594.6,246.7 595.3,246.8 596.0,246.9 596.7,246.9 597.4,247.0 598.1,247.0 598.8,247.0 599.5,247.0 600.2,247.0 600.9,247.0 601.6,247.0 602.3,247.0 603.0,247.0 603.7,247.0 604.4,247.0 605.1,247.0 605.8,247.0 606.5,247.0 607.2,247.0 607.6,247.0 607.9,201.2 608.6,94.5 608.8,64.0 609.3,123.9 610.0,173.4 610.7,200.2 611.4,214.9 612.1,223.2 612.8,228.0 613.5,231.0 614.2,233.0 614.9,234.4 615.6,235.5 616.3,236.5 617.0,237.2 617.7,237.9 618.4,238.6 619.1,239.1 619.8,239.7 620.5,240.2 621.2,240.6 621.9,241.1 622.6,241.5 623.3,241.8 624.0,242.2 624.7,242.5 625.4,242.8 626.1,243.1 626.8,243.4 627.5,243.6 628.2,243.8 628.9,244.1 629.6,244.3 630.3,244.4 631.0,244.6 631.7,244.8 632.4,244.9 633.1,245.1 633.8,245.2 634.5,245.3 635.2,245.4 635.9,245.5 636.6,245.6 637.3,245.7 638.0,245.8 638.7,245.9 639.4,246.0 640.1,246.0 640.8,246.1 641.5,246.2 642.2,246.2 642.9,246.3 643.6,246.3 644.3,246.4 645.0,246.4 645.7,246.5 646.4,246.5 647.1,246.5 647.8,246.6 648.5,246.6 649.2,246.6 649.9,246.6" fill="none" stroke="#1010e0" stroke-width="2.2" stroke-linejoin="round" />
<polyline points="381.8,244.9 383.1,244.2 384.4,245.7 385.7,244.7 387.0,243.9 388.3,246.4 389.6,246.2 390.9,244.2 392.2,245.9 393.5,244.2 394.8,246.0 396.1,246.0 397.4,245.6 398.7,245.7 400.0,246.7 401.3,245.4 402.6,246.2 403.9,244.7 405.2,243.9 406.5,246.0 407.8,243.3 409.1,246.0 410.4,243.2 411.7,243.6 413.0,243.3 414.3,244.2 415.6,246.1 416.9,243.7 418.2,246.4 419.5,244.2 420.8,245.8 422.1,245.0 423.4,244.4 424.7,245.5 426.0,244.7 427.3,245.1 428.6,243.7 429.9,246.3 431.2,244.0 432.5,246.4 433.8,243.9 435.1,243.7 436.4,243.5 437.7,246.8 439.0,244.1 440.3,245.2 441.6,246.1 442.9,245.3 444.2,245.4 445.5,243.8 446.8,245.2 448.1,246.6 449.4,243.5 450.7,246.5 452.0,245.3 453.3,244.2 454.6,245.2 455.9,246.6 457.2,245.4 458.5,246.2 459.8,243.9 461.1,246.6 462.4,243.4 463.7,244.5 465.0,243.8 466.3,245.3 467.6,244.8 468.9,246.4 470.2,243.5 471.5,243.2 472.8,239.2 474.1,240.2 475.4,239.6 476.7,236.6 478.0,238.1 479.3,242.6 480.6,243.0 481.9,242.2 483.2,245.8 484.5,244.6 485.8,244.8 487.1,245.0 488.4,246.7 489.7,245.4 491.0,246.6 492.3,243.8 493.6,245.4 494.9,243.8 496.2,246.7 497.5,245.0 498.8,246.4 500.1,243.9 501.4,244.7 502.7,244.0 504.0,246.2 505.3,244.1 506.6,244.1 507.9,246.4 509.2,243.7 510.5,245.6 511.8,246.4 513.1,245.5 514.4,246.4 515.7,243.4 517.0,243.4 518.3,243.2 519.6,245.5 520.9,245.2 522.2,246.4 523.5,244.4 524.8,244.7 526.1,246.8 527.4,245.7 528.7,243.9 530.0,243.8 531.3,246.3 532.6,245.5 533.9,244.2 535.2,245.6 536.5,244.4 537.8,244.4 539.1,245.2 540.4,245.3 541.7,246.3 543.0,244.6 544.2,244.0 545.5,243.6 546.8,244.0 548.1,246.1 549.4,245.5 550.7,244.0" fill="none" stroke="#111" stroke-width="1.1" stroke-linejoin="round" />
<polyline points="381.8,87.6 383.6,86.7 386.3,87.6 388.9,85.8 391.6,87.6 393.3,98.2 394.2,105.2 396.0,107.9 397.7,107.0 398.6,96.4 399.5,82.3 400.4,77.9 401.2,77.9 403.0,80.5 404.8,78.7 407.4,77.0 410.0,76.1 411.8,75.2 413.6,77.0 415.3,80.5 417.1,77.9 418.9,79.6 420.6,81.4 422.4,85.8 424.1,89.4 426.8,87.6 429.4,86.7 432.1,89.4 434.7,87.6 437.3,89.4 440.0,86.7 441.7,85.8 443.5,82.8 447.0,80.6 449.7,81.4 452.3,83.2 454.1,86.3 455.8,92.0 458.5,92.9 461.1,89.4 462.9,87.6 464.6,92.0 466.4,94.0 468.2,100.4 469.9,105.2 471.7,110.0 473.5,118.0 475.2,107.5 477.0,114.5 478.7,103.9 480.5,111.0 482.3,118.0 484.0,123.0 485.4,118.7 486.8,118.4 488.2,122.4 489.6,118.4 491.0,119.0 492.4,121.5 493.8,118.9 495.2,122.1 496.6,120.8 498.0,122.3 499.4,121.3 500.8,123.5 502.2,122.8 503.6,121.0 505.0,122.7 506.4,120.3 507.8,117.6 509.2,121.2 510.6,119.3 512.0,117.8 513.4,118.5 514.8,119.3 516.2,117.1 517.6,120.9 519.0,119.7 520.4,118.8 521.8,116.7 523.2,118.7 524.6,118.7 526.0,114.9 527.4,114.5 528.8,111.0 530.2,114.3 531.6,121.2 533.0,120.2 534.4,117.2 535.8,120.5 537.2,114.1 538.6,114.7 540.0,116.8 541.4,118.2 542.8,111.7 544.2,118.1 545.6,120.7 547.0,123.6 548.4,116.2 549.8,117.9 550.4,118.0" fill="none" stroke="#000" stroke-width="2.6" stroke-linejoin="round" />
<polyline points="381.8,4.6 396.5,4.6 397.7,8.0 398.9,4.6 488.3,4.6 489.5,7.0 490.7,4.6 491.5,4.6 492.7,13.2 493.9,4.6 494.8,4.6 496.0,6.0 497.2,4.6 498.0,4.6 499.2,7.0 500.4,4.6 500.8,4.6 502.0,6.0 503.2,4.6 503.3,4.6 504.5,7.0 505.7,4.6 505.8,4.6 507.0,6.0 508.2,4.6 508.6,4.6 509.8,7.9 511.0,4.6 512.1,4.6 513.3,7.0 514.5,4.6 514.8,4.6 516.0,6.0 517.2,4.6 517.4,4.6 518.6,8.8 519.8,4.6 520.9,4.6 522.1,9.7 523.3,4.6 523.5,4.6 524.7,10.6 526.1,17.6 527.4,22.9 528.3,10.6 529.5,4.6 529.7,4.6 530.9,14.1 532.1,22.9 532.8,42.3 533.5,10.6 534.7,4.6 535.0,4.6 536.2,17.6 537.1,31.7 537.9,14.1 539.1,4.6 539.8,4.6 541.0,6.5 542.2,4.6 543.8,4.6 545.0,8.8 546.2,4.6 547.3,4.6 548.5,7.9 549.7,4.6 550.8,4.6 552.0,12.3 553.2,4.6 554.3,4.6 555.5,7.0 556.7,4.6 557.9,4.6 559.1,7.9 560.3,4.6 561.3,4.6 562.5,6.0 563.7,4.6 564.9,4.6 566.1,6.2 567.3,4.6 701.8,4.6" fill="none" stroke="#0a0aff" stroke-width="1.5" stroke-linejoin="round" />
<polyline points="398.6,5.5 401.5,10.5" fill="none" stroke="#8a8a8a" stroke-width="0.9" stroke-linejoin="round" />
<polyline points="397.7,3.5 397.7,246.0" fill="none" stroke="#ff00ff" stroke-width="1.9" stroke-linejoin="round" />
<polyline points="464.6,159.3 482.6,159.3" fill="none" stroke="#111" stroke-width="1.0" stroke-linejoin="round" />
<polyline points="475.7,159.3 484.4,155.0" fill="none" stroke="#111" stroke-width="1.0" stroke-linejoin="round" />
</g>
<line x1="65.26712328767124" y1="3.5" x2="65.26712328767124" y2="6.5" stroke="#555" stroke-width="1" />
<line x1="65.26712328767124" y1="248.5" x2="65.26712328767124" y2="245.5" stroke="#555" stroke-width="1" />
<line x1="74.03424657534246" y1="3.5" x2="74.03424657534246" y2="6.5" stroke="#555" stroke-width="1" />
<line x1="74.03424657534246" y1="248.5" x2="74.03424657534246" y2="245.5" stroke="#555" stroke-width="1" />
<line x1="82.80136986301369" y1="3.5" x2="82.80136986301369" y2="6.5" stroke="#555" stroke-width="1" />
<line x1="82.80136986301369" y1="248.5" x2="82.80136986301369" y2="245.5" stroke="#555" stroke-width="1" />
<line x1="91.56849315068493" y1="3.5" x2="91.56849315068493" y2="6.5" stroke="#555" stroke-width="1" />
<line x1="91.56849315068493" y1="248.5" x2="91.56849315068493" y2="245.5" stroke="#555" stroke-width="1" />
<line x1="100.33561643835617" y1="3.5" x2="100.33561643835617" y2="6.5" stroke="#555" stroke-width="1" />
<line x1="100.33561643835617" y1="248.5" x2="100.33561643835617" y2="245.5" stroke="#555" stroke-width="1" />
<line x1="109.1027397260274" y1="3.5" x2="109.1027397260274" y2="6.5" stroke="#555" stroke-width="1" />
<line x1="109.1027397260274" y1="248.5" x2="109.1027397260274" y2="245.5" stroke="#555" stroke-width="1" />
<line x1="117.86986301369862" y1="3.5" x2="117.86986301369862" y2="6.5" stroke="#555" stroke-width="1" />
<line x1="117.86986301369862" y1="248.5" x2="117.86986301369862" y2="245.5" stroke="#555" stroke-width="1" />
<line x1="126.63698630136986" y1="3.5" x2="126.63698630136986" y2="6.5" stroke="#555" stroke-width="1" />
<line x1="126.63698630136986" y1="248.5" x2="126.63698630136986" y2="245.5" stroke="#555" stroke-width="1" />
<line x1="135.4041095890411" y1="3.5" x2="135.4041095890411" y2="6.5" stroke="#555" stroke-width="1" />
<line x1="135.4041095890411" y1="248.5" x2="135.4041095890411" y2="245.5" stroke="#555" stroke-width="1" />
<line x1="144.17123287671234" y1="3.5" x2="144.17123287671234" y2="10.0" stroke="#555" stroke-width="1" />
<line x1="144.17123287671234" y1="248.5" x2="144.17123287671234" y2="242.0" stroke="#555" stroke-width="1" />
<line x1="152.93835616438355" y1="3.5" x2="152.93835616438355" y2="6.5" stroke="#555" stroke-width="1" />
<line x1="152.93835616438355" y1="248.5" x2="152.93835616438355" y2="245.5" stroke="#555" stroke-width="1" />
<line x1="161.7054794520548" y1="3.5" x2="161.7054794520548" y2="6.5" stroke="#555" stroke-width="1" />
<line x1="161.7054794520548" y1="248.5" x2="161.7054794520548" y2="245.5" stroke="#555" stroke-width="1" />
<line x1="170.47260273972603" y1="3.5" x2="170.47260273972603" y2="6.5" stroke="#555" stroke-width="1" />
<line x1="170.47260273972603" y1="248.5" x2="170.47260273972603" y2="245.5" stroke="#555" stroke-width="1" />
<line x1="179.23972602739724" y1="3.5" x2="179.23972602739724" y2="6.5" stroke="#555" stroke-width="1" />
<line x1="179.23972602739724" y1="248.5" x2="179.23972602739724" y2="245.5" stroke="#555" stroke-width="1" />
<line x1="188.0068493150685" y1="3.5" x2="188.0068493150685" y2="6.5" stroke="#555" stroke-width="1" />
<line x1="188.0068493150685" y1="248.5" x2="188.0068493150685" y2="245.5" stroke="#555" stroke-width="1" />
<line x1="196.77397260273972" y1="3.5" x2="196.77397260273972" y2="6.5" stroke="#555" stroke-width="1" />
<line x1="196.77397260273972" y1="248.5" x2="196.77397260273972" y2="245.5" stroke="#555" stroke-width="1" />
<line x1="205.54109589041096" y1="3.5" x2="205.54109589041096" y2="6.5" stroke="#555" stroke-width="1" />
<line x1="205.54109589041096" y1="248.5" x2="205.54109589041096" y2="245.5" stroke="#555" stroke-width="1" />
<line x1="214.3082191780822" y1="3.5" x2="214.3082191780822" y2="6.5" stroke="#555" stroke-width="1" />
<line x1="214.3082191780822" y1="248.5" x2="214.3082191780822" y2="245.5" stroke="#555" stroke-width="1" />
<line x1="223.07534246575344" y1="3.5" x2="223.07534246575344" y2="6.5" stroke="#555" stroke-width="1" />
<line x1="223.07534246575344" y1="248.5" x2="223.07534246575344" y2="245.5" stroke="#555" stroke-width="1" />
<line x1="231.84246575342465" y1="3.5" x2="231.84246575342465" y2="10.0" stroke="#555" stroke-width="1" />
<line x1="231.84246575342465" y1="248.5" x2="231.84246575342465" y2="242.0" stroke="#555" stroke-width="1" />
<line x1="240.6095890410959" y1="3.5" x2="240.6095890410959" y2="6.5" stroke="#555" stroke-width="1" />
<line x1="240.6095890410959" y1="248.5" x2="240.6095890410959" y2="245.5" stroke="#555" stroke-width="1" />
<line x1="249.37671232876713" y1="3.5" x2="249.37671232876713" y2="6.5" stroke="#555" stroke-width="1" />
<line x1="249.37671232876713" y1="248.5" x2="249.37671232876713" y2="245.5" stroke="#555" stroke-width="1" />
<line x1="258.14383561643837" y1="3.5" x2="258.14383561643837" y2="6.5" stroke="#555" stroke-width="1" />
<line x1="258.14383561643837" y1="248.5" x2="258.14383561643837" y2="245.5" stroke="#555" stroke-width="1" />
<line x1="266.9109589041096" y1="3.5" x2="266.9109589041096" y2="6.5" stroke="#555" stroke-width="1" />
<line x1="266.9109589041096" y1="248.5" x2="266.9109589041096" y2="245.5" stroke="#555" stroke-width="1" />
<line x1="275.67808219178085" y1="3.5" x2="275.67808219178085" y2="6.5" stroke="#555" stroke-width="1" />
<line x1="275.67808219178085" y1="248.5" x2="275.67808219178085" y2="245.5" stroke="#555" stroke-width="1" />
<line x1="284.44520547945206" y1="3.5" x2="284.44520547945206" y2="6.5" stroke="#555" stroke-width="1" />
<line x1="284.44520547945206" y1="248.5" x2="284.44520547945206" y2="245.5" stroke="#555" stroke-width="1" />
<line x1="293.21232876712327" y1="3.5" x2="293.21232876712327" y2="6.5" stroke="#555" stroke-width="1" />
<line x1="293.21232876712327" y1="248.5" x2="293.21232876712327" y2="245.5" stroke="#555" stroke-width="1" />
<line x1="301.9794520547945" y1="3.5" x2="301.9794520547945" y2="6.5" stroke="#555" stroke-width="1" />
<line x1="301.9794520547945" y1="248.5" x2="301.9794520547945" y2="245.5" stroke="#555" stroke-width="1" />
<line x1="310.74657534246575" y1="3.5" x2="310.74657534246575" y2="6.5" stroke="#555" stroke-width="1" />
<line x1="310.74657534246575" y1="248.5" x2="310.74657534246575" y2="245.5" stroke="#555" stroke-width="1" />
<line x1="319.513698630137" y1="3.5" x2="319.513698630137" y2="10.0" stroke="#555" stroke-width="1" />
<line x1="319.513698630137" y1="248.5" x2="319.513698630137" y2="242.0" stroke="#555" stroke-width="1" />
<line x1="328.2808219178082" y1="3.5" x2="328.2808219178082" y2="6.5" stroke="#555" stroke-width="1" />
<line x1="328.2808219178082" y1="248.5" x2="328.2808219178082" y2="245.5" stroke="#555" stroke-width="1" />
<line x1="337.04794520547944" y1="3.5" x2="337.04794520547944" y2="6.5" stroke="#555" stroke-width="1" />
<line x1="337.04794520547944" y1="248.5" x2="337.04794520547944" y2="245.5" stroke="#555" stroke-width="1" />
<line x1="345.8150684931507" y1="3.5" x2="345.8150684931507" y2="6.5" stroke="#555" stroke-width="1" />
<line x1="345.8150684931507" y1="248.5" x2="345.8150684931507" y2="245.5" stroke="#555" stroke-width="1" />
<line x1="354.5821917808219" y1="3.5" x2="354.5821917808219" y2="6.5" stroke="#555" stroke-width="1" />
<line x1="354.5821917808219" y1="248.5" x2="354.5821917808219" y2="245.5" stroke="#555" stroke-width="1" />
<line x1="363.3493150684931" y1="3.5" x2="363.3493150684931" y2="6.5" stroke="#555" stroke-width="1" />
<line x1="363.3493150684931" y1="248.5" x2="363.3493150684931" y2="245.5" stroke="#555" stroke-width="1" />
<line x1="372.1164383561644" y1="3.5" x2="372.1164383561644" y2="6.5" stroke="#555" stroke-width="1" />
<line x1="372.1164383561644" y1="248.5" x2="372.1164383561644" y2="245.5" stroke="#555" stroke-width="1" />
<rect x="56.5" y="3.5" width="320.0" height="245.0" fill="none" stroke="#444" stroke-width="1"/>
<line x1="56.5" y1="3.5" x2="376.5" y2="3.5" stroke="#23236e" stroke-width="1.3" />
<line x1="56.5" y1="248.5" x2="376.5" y2="248.5" stroke="#1d5a80" stroke-width="1.5" />
<line x1="390.5171232876712" y1="3.5" x2="390.5171232876712" y2="6.5" stroke="#555" stroke-width="1" />
<line x1="390.5171232876712" y1="248.5" x2="390.5171232876712" y2="245.5" stroke="#555" stroke-width="1" />
<line x1="399.2842465753425" y1="3.5" x2="399.2842465753425" y2="6.5" stroke="#555" stroke-width="1" />
<line x1="399.2842465753425" y1="248.5" x2="399.2842465753425" y2="245.5" stroke="#555" stroke-width="1" />
<line x1="408.0513698630137" y1="3.5" x2="408.0513698630137" y2="6.5" stroke="#555" stroke-width="1" />
<line x1="408.0513698630137" y1="248.5" x2="408.0513698630137" y2="245.5" stroke="#555" stroke-width="1" />
<line x1="416.81849315068496" y1="3.5" x2="416.81849315068496" y2="6.5" stroke="#555" stroke-width="1" />
<line x1="416.81849315068496" y1="248.5" x2="416.81849315068496" y2="245.5" stroke="#555" stroke-width="1" />
<line x1="425.58561643835617" y1="3.5" x2="425.58561643835617" y2="6.5" stroke="#555" stroke-width="1" />
<line x1="425.58561643835617" y1="248.5" x2="425.58561643835617" y2="245.5" stroke="#555" stroke-width="1" />
<line x1="434.3527397260274" y1="3.5" x2="434.3527397260274" y2="6.5" stroke="#555" stroke-width="1" />
<line x1="434.3527397260274" y1="248.5" x2="434.3527397260274" y2="245.5" stroke="#555" stroke-width="1" />
<line x1="443.11986301369865" y1="3.5" x2="443.11986301369865" y2="6.5" stroke="#555" stroke-width="1" />
<line x1="443.11986301369865" y1="248.5" x2="443.11986301369865" y2="245.5" stroke="#555" stroke-width="1" />
<line x1="451.88698630136986" y1="3.5" x2="451.88698630136986" y2="6.5" stroke="#555" stroke-width="1" />
<line x1="451.88698630136986" y1="248.5" x2="451.88698630136986" y2="245.5" stroke="#555" stroke-width="1" />
<line x1="460.6541095890411" y1="3.5" x2="460.6541095890411" y2="6.5" stroke="#555" stroke-width="1" />
<line x1="460.6541095890411" y1="248.5" x2="460.6541095890411" y2="245.5" stroke="#555" stroke-width="1" />
<line x1="469.42123287671234" y1="3.5" x2="469.42123287671234" y2="10.0" stroke="#555" stroke-width="1" />
<line x1="469.42123287671234" y1="248.5" x2="469.42123287671234" y2="242.0" stroke="#555" stroke-width="1" />
<line x1="478.18835616438355" y1="3.5" x2="478.18835616438355" y2="6.5" stroke="#555" stroke-width="1" />
<line x1="478.18835616438355" y1="248.5" x2="478.18835616438355" y2="245.5" stroke="#555" stroke-width="1" />
<line x1="486.95547945205476" y1="3.5" x2="486.95547945205476" y2="6.5" stroke="#555" stroke-width="1" />
<line x1="486.95547945205476" y1="248.5" x2="486.95547945205476" y2="245.5" stroke="#555" stroke-width="1" />
<line x1="495.722602739726" y1="3.5" x2="495.722602739726" y2="6.5" stroke="#555" stroke-width="1" />
<line x1="495.722602739726" y1="248.5" x2="495.722602739726" y2="245.5" stroke="#555" stroke-width="1" />
<line x1="504.48972602739724" y1="3.5" x2="504.48972602739724" y2="6.5" stroke="#555" stroke-width="1" />
<line x1="504.48972602739724" y1="248.5" x2="504.48972602739724" y2="245.5" stroke="#555" stroke-width="1" />
<line x1="513.2568493150685" y1="3.5" x2="513.2568493150685" y2="6.5" stroke="#555" stroke-width="1" />
<line x1="513.2568493150685" y1="248.5" x2="513.2568493150685" y2="245.5" stroke="#555" stroke-width="1" />
<line x1="522.0239726027397" y1="3.5" x2="522.0239726027397" y2="6.5" stroke="#555" stroke-width="1" />
<line x1="522.0239726027397" y1="248.5" x2="522.0239726027397" y2="245.5" stroke="#555" stroke-width="1" />
<line x1="530.7910958904109" y1="3.5" x2="530.7910958904109" y2="6.5" stroke="#555" stroke-width="1" />
<line x1="530.7910958904109" y1="248.5" x2="530.7910958904109" y2="245.5" stroke="#555" stroke-width="1" />
<line x1="539.5582191780823" y1="3.5" x2="539.5582191780823" y2="6.5" stroke="#555" stroke-width="1" />
<line x1="539.5582191780823" y1="248.5" x2="539.5582191780823" y2="245.5" stroke="#555" stroke-width="1" />
<line x1="548.3253424657535" y1="3.5" x2="548.3253424657535" y2="6.5" stroke="#555" stroke-width="1" />
<line x1="548.3253424657535" y1="248.5" x2="548.3253424657535" y2="245.5" stroke="#555" stroke-width="1" />
<line x1="557.0924657534247" y1="3.5" x2="557.0924657534247" y2="10.0" stroke="#555" stroke-width="1" />
<line x1="557.0924657534247" y1="248.5" x2="557.0924657534247" y2="242.0" stroke="#555" stroke-width="1" />
<line x1="565.8595890410959" y1="3.5" x2="565.8595890410959" y2="6.5" stroke="#555" stroke-width="1" />
<line x1="565.8595890410959" y1="248.5" x2="565.8595890410959" y2="245.5" stroke="#555" stroke-width="1" />
<line x1="574.6267123287671" y1="3.5" x2="574.6267123287671" y2="6.5" stroke="#555" stroke-width="1" />
<line x1="574.6267123287671" y1="248.5" x2="574.6267123287671" y2="245.5" stroke="#555" stroke-width="1" />
<line x1="583.3938356164383" y1="3.5" x2="583.3938356164383" y2="6.5" stroke="#555" stroke-width="1" />
<line x1="583.3938356164383" y1="248.5" x2="583.3938356164383" y2="245.5" stroke="#555" stroke-width="1" />
<line x1="592.1609589041095" y1="3.5" x2="592.1609589041095" y2="6.5" stroke="#555" stroke-width="1" />
<line x1="592.1609589041095" y1="248.5" x2="592.1609589041095" y2="245.5" stroke="#555" stroke-width="1" />
<line x1="600.9280821917808" y1="3.5" x2="600.9280821917808" y2="6.5" stroke="#555" stroke-width="1" />
<line x1="600.9280821917808" y1="248.5" x2="600.9280821917808" y2="245.5" stroke="#555" stroke-width="1" />
<line x1="609.695205479452" y1="3.5" x2="609.695205479452" y2="6.5" stroke="#555" stroke-width="1" />
<line x1="609.695205479452" y1="248.5" x2="609.695205479452" y2="245.5" stroke="#555" stroke-width="1" />
<line x1="618.4623287671233" y1="3.5" x2="618.4623287671233" y2="6.5" stroke="#555" stroke-width="1" />
<line x1="618.4623287671233" y1="248.5" x2="618.4623287671233" y2="245.5" stroke="#555" stroke-width="1" />
<line x1="627.2294520547945" y1="3.5" x2="627.2294520547945" y2="6.5" stroke="#555" stroke-width="1" />
<line x1="627.2294520547945" y1="248.5" x2="627.2294520547945" y2="245.5" stroke="#555" stroke-width="1" />
<line x1="635.9965753424658" y1="3.5" x2="635.9965753424658" y2="6.5" stroke="#555" stroke-width="1" />
<line x1="635.9965753424658" y1="248.5" x2="635.9965753424658" y2="245.5" stroke="#555" stroke-width="1" />
<line x1="644.763698630137" y1="3.5" x2="644.763698630137" y2="10.0" stroke="#555" stroke-width="1" />
<line x1="644.763698630137" y1="248.5" x2="644.763698630137" y2="242.0" stroke="#555" stroke-width="1" />
<line x1="653.5308219178082" y1="3.5" x2="653.5308219178082" y2="6.5" stroke="#555" stroke-width="1" />
<line x1="653.5308219178082" y1="248.5" x2="653.5308219178082" y2="245.5" stroke="#555" stroke-width="1" />
<line x1="662.2979452054794" y1="3.5" x2="662.2979452054794" y2="6.5" stroke="#555" stroke-width="1" />
<line x1="662.2979452054794" y1="248.5" x2="662.2979452054794" y2="245.5" stroke="#555" stroke-width="1" />
<line x1="671.0650684931506" y1="3.5" x2="671.0650684931506" y2="6.5" stroke="#555" stroke-width="1" />
<line x1="671.0650684931506" y1="248.5" x2="671.0650684931506" y2="245.5" stroke="#555" stroke-width="1" />
<line x1="679.8321917808219" y1="3.5" x2="679.8321917808219" y2="6.5" stroke="#555" stroke-width="1" />
<line x1="679.8321917808219" y1="248.5" x2="679.8321917808219" y2="245.5" stroke="#555" stroke-width="1" />
<line x1="688.5993150684931" y1="3.5" x2="688.5993150684931" y2="6.5" stroke="#555" stroke-width="1" />
<line x1="688.5993150684931" y1="248.5" x2="688.5993150684931" y2="245.5" stroke="#555" stroke-width="1" />
<line x1="697.3664383561644" y1="3.5" x2="697.3664383561644" y2="6.5" stroke="#555" stroke-width="1" />
<line x1="697.3664383561644" y1="248.5" x2="697.3664383561644" y2="245.5" stroke="#555" stroke-width="1" />
<rect x="381.75" y="3.5" width="320.0" height="245.0" fill="none" stroke="#444" stroke-width="1"/>
<line x1="381.75" y1="3.5" x2="701.75" y2="3.5" stroke="#333" stroke-width="1.3" />
<line x1="381.75" y1="248.5" x2="701.75" y2="248.5" stroke="#4a8fd8" stroke-width="1.5" />
<line x1="381.75" y1="4.6" x2="701.75" y2="4.6" stroke="#8c8cf0" stroke-width="1.0" />
<line x1="381.75" y1="249.3" x2="701.75" y2="249.3" stroke="#999" stroke-width="1.0" />
<line x1="56.5" y1="3.5" x2="63.0" y2="3.5" stroke="#666" stroke-width="1" />
<line x1="381.75" y1="3.5" x2="388.25" y2="3.5" stroke="#666" stroke-width="1" />
<line x1="56.5" y1="13.708333333333334" x2="60.0" y2="13.708333333333334" stroke="#666" stroke-width="1" />
<line x1="381.75" y1="13.708333333333334" x2="385.25" y2="13.708333333333334" stroke="#666" stroke-width="1" />
<line x1="56.5" y1="23.916666666666668" x2="60.0" y2="23.916666666666668" stroke="#666" stroke-width="1" />
<line x1="381.75" y1="23.916666666666668" x2="385.25" y2="23.916666666666668" stroke="#666" stroke-width="1" />
<line x1="56.5" y1="34.125" x2="60.0" y2="34.125" stroke="#666" stroke-width="1" />
<line x1="381.75" y1="34.125" x2="385.25" y2="34.125" stroke="#666" stroke-width="1" />
<line x1="56.5" y1="44.333333333333336" x2="63.0" y2="44.333333333333336" stroke="#666" stroke-width="1" />
<line x1="381.75" y1="44.333333333333336" x2="388.25" y2="44.333333333333336" stroke="#666" stroke-width="1" />
<line x1="56.5" y1="54.541666666666664" x2="60.0" y2="54.541666666666664" stroke="#666" stroke-width="1" />
<line x1="381.75" y1="54.541666666666664" x2="385.25" y2="54.541666666666664" stroke="#666" stroke-width="1" />
<line x1="56.5" y1="64.75" x2="60.0" y2="64.75" stroke="#666" stroke-width="1" />
<line x1="381.75" y1="64.75" x2="385.25" y2="64.75" stroke="#666" stroke-width="1" />
<line x1="56.5" y1="74.95833333333333" x2="60.0" y2="74.95833333333333" stroke="#666" stroke-width="1" />
<line x1="381.75" y1="74.95833333333333" x2="385.25" y2="74.95833333333333" stroke="#666" stroke-width="1" />
<line x1="56.5" y1="85.16666666666667" x2="63.0" y2="85.16666666666667" stroke="#666" stroke-width="1" />
<line x1="381.75" y1="85.16666666666667" x2="388.25" y2="85.16666666666667" stroke="#666" stroke-width="1" />
<line x1="56.5" y1="95.375" x2="60.0" y2="95.375" stroke="#666" stroke-width="1" />
<line x1="381.75" y1="95.375" x2="385.25" y2="95.375" stroke="#666" stroke-width="1" />
<line x1="56.5" y1="105.58333333333333" x2="60.0" y2="105.58333333333333" stroke="#666" stroke-width="1" />
<line x1="381.75" y1="105.58333333333333" x2="385.25" y2="105.58333333333333" stroke="#666" stroke-width="1" />
<line x1="56.5" y1="115.79166666666667" x2="60.0" y2="115.79166666666667" stroke="#666" stroke-width="1" />
<line x1="381.75" y1="115.79166666666667" x2="385.25" y2="115.79166666666667" stroke="#666" stroke-width="1" />
<line x1="56.5" y1="126.0" x2="63.0" y2="126.0" stroke="#666" stroke-width="1" />
<line x1="381.75" y1="126.0" x2="388.25" y2="126.0" stroke="#666" stroke-width="1" />
<line x1="56.5" y1="136.20833333333334" x2="60.0" y2="136.20833333333334" stroke="#666" stroke-width="1" />
<line x1="381.75" y1="136.20833333333334" x2="385.25" y2="136.20833333333334" stroke="#666" stroke-width="1" />
<line x1="56.5" y1="146.41666666666666" x2="60.0" y2="146.41666666666666" stroke="#666" stroke-width="1" />
<line x1="381.75" y1="146.41666666666666" x2="385.25" y2="146.41666666666666" stroke="#666" stroke-width="1" />
<line x1="56.5" y1="156.625" x2="60.0" y2="156.625" stroke="#666" stroke-width="1" />
<line x1="381.75" y1="156.625" x2="385.25" y2="156.625" stroke="#666" stroke-width="1" />
<line x1="56.5" y1="166.83333333333334" x2="63.0" y2="166.83333333333334" stroke="#666" stroke-width="1" />
<line x1="381.75" y1="166.83333333333334" x2="388.25" y2="166.83333333333334" stroke="#666" stroke-width="1" />
<line x1="56.5" y1="177.04166666666666" x2="60.0" y2="177.04166666666666" stroke="#666" stroke-width="1" />
<line x1="381.75" y1="177.04166666666666" x2="385.25" y2="177.04166666666666" stroke="#666" stroke-width="1" />
<line x1="56.5" y1="187.25" x2="60.0" y2="187.25" stroke="#666" stroke-width="1" />
<line x1="381.75" y1="187.25" x2="385.25" y2="187.25" stroke="#666" stroke-width="1" />
<line x1="56.5" y1="197.45833333333334" x2="60.0" y2="197.45833333333334" stroke="#666" stroke-width="1" />
<line x1="381.75" y1="197.45833333333334" x2="385.25" y2="197.45833333333334" stroke="#666" stroke-width="1" />
<line x1="56.5" y1="207.66666666666666" x2="63.0" y2="207.66666666666666" stroke="#666" stroke-width="1" />
<line x1="381.75" y1="207.66666666666666" x2="388.25" y2="207.66666666666666" stroke="#666" stroke-width="1" />
<line x1="56.5" y1="217.875" x2="60.0" y2="217.875" stroke="#666" stroke-width="1" />
<line x1="381.75" y1="217.875" x2="385.25" y2="217.875" stroke="#666" stroke-width="1" />
<line x1="56.5" y1="228.08333333333334" x2="60.0" y2="228.08333333333334" stroke="#666" stroke-width="1" />
<line x1="381.75" y1="228.08333333333334" x2="385.25" y2="228.08333333333334" stroke="#666" stroke-width="1" />
<line x1="56.5" y1="238.29166666666666" x2="60.0" y2="238.29166666666666" stroke="#666" stroke-width="1" />
<line x1="381.75" y1="238.29166666666666" x2="385.25" y2="238.29166666666666" stroke="#666" stroke-width="1" />
<line x1="56.5" y1="248.5" x2="63.0" y2="248.5" stroke="#666" stroke-width="1" />
<line x1="381.75" y1="248.5" x2="388.25" y2="248.5" stroke="#666" stroke-width="1" />
<line x1="376.5" y1="3.5" x2="370.0" y2="3.5" stroke="#666" stroke-width="1" />
<line x1="701.75" y1="3.5" x2="695.25" y2="3.5" stroke="#666" stroke-width="1" />
<line x1="376.5" y1="13.708333333333334" x2="373.0" y2="13.708333333333334" stroke="#666" stroke-width="1" />
<line x1="701.75" y1="13.708333333333334" x2="698.25" y2="13.708333333333334" stroke="#666" stroke-width="1" />
<line x1="376.5" y1="23.916666666666668" x2="373.0" y2="23.916666666666668" stroke="#666" stroke-width="1" />
<line x1="701.75" y1="23.916666666666668" x2="698.25" y2="23.916666666666668" stroke="#666" stroke-width="1" />
<line x1="376.5" y1="34.125" x2="373.0" y2="34.125" stroke="#666" stroke-width="1" />
<line x1="701.75" y1="34.125" x2="698.25" y2="34.125" stroke="#666" stroke-width="1" />
<line x1="376.5" y1="44.333333333333336" x2="373.0" y2="44.333333333333336" stroke="#666" stroke-width="1" />
<line x1="701.75" y1="44.333333333333336" x2="698.25" y2="44.333333333333336" stroke="#666" stroke-width="1" />
<line x1="376.5" y1="54.541666666666664" x2="370.0" y2="54.541666666666664" stroke="#666" stroke-width="1" />
<line x1="701.75" y1="54.541666666666664" x2="695.25" y2="54.541666666666664" stroke="#666" stroke-width="1" />
<line x1="376.5" y1="64.75" x2="373.0" y2="64.75" stroke="#666" stroke-width="1" />
<line x1="701.75" y1="64.75" x2="698.25" y2="64.75" stroke="#666" stroke-width="1" />
<line x1="376.5" y1="74.95833333333333" x2="373.0" y2="74.95833333333333" stroke="#666" stroke-width="1" />
<line x1="701.75" y1="74.95833333333333" x2="698.25" y2="74.95833333333333" stroke="#666" stroke-width="1" />
<line x1="376.5" y1="85.16666666666667" x2="373.0" y2="85.16666666666667" stroke="#666" stroke-width="1" />
<line x1="701.75" y1="85.16666666666667" x2="698.25" y2="85.16666666666667" stroke="#666" stroke-width="1" />
<line x1="376.5" y1="95.375" x2="373.0" y2="95.375" stroke="#666" stroke-width="1" />
<line x1="701.75" y1="95.375" x2="698.25" y2="95.375" stroke="#666" stroke-width="1" />
<line x1="376.5" y1="105.58333333333333" x2="370.0" y2="105.58333333333333" stroke="#666" stroke-width="1" />
<line x1="701.75" y1="105.58333333333333" x2="695.25" y2="105.58333333333333" stroke="#666" stroke-width="1" />
<line x1="376.5" y1="115.79166666666667" x2="373.0" y2="115.79166666666667" stroke="#666" stroke-width="1" />
<line x1="701.75" y1="115.79166666666667" x2="698.25" y2="115.79166666666667" stroke="#666" stroke-width="1" />
<line x1="376.5" y1="126.0" x2="373.0" y2="126.0" stroke="#666" stroke-width="1" />
<line x1="701.75" y1="126.0" x2="698.25" y2="126.0" stroke="#666" stroke-width="1" />
<line x1="376.5" y1="136.20833333333334" x2="373.0" y2="136.20833333333334" stroke="#666" stroke-width="1" />
<line x1="701.75" y1="136.20833333333334" x2="698.25" y2="136.20833333333334" stroke="#666" stroke-width="1" />
<line x1="376.5" y1="146.41666666666666" x2="373.0" y2="146.41666666666666" stroke="#666" stroke-width="1" />
<line x1="701.75" y1="146.41666666666666" x2="698.25" y2="146.41666666666666" stroke="#666" stroke-width="1" />
<line x1="376.5" y1="156.625" x2="370.0" y2="156.625" stroke="#666" stroke-width="1" />
<line x1="701.75" y1="156.625" x2="695.25" y2="156.625" stroke="#666" stroke-width="1" />
<line x1="376.5" y1="166.83333333333334" x2="373.0" y2="166.83333333333334" stroke="#666" stroke-width="1" />
<line x1="701.75" y1="166.83333333333334" x2="698.25" y2="166.83333333333334" stroke="#666" stroke-width="1" />
<line x1="376.5" y1="177.04166666666666" x2="373.0" y2="177.04166666666666" stroke="#666" stroke-width="1" />
<line x1="701.75" y1="177.04166666666666" x2="698.25" y2="177.04166666666666" stroke="#666" stroke-width="1" />
<line x1="376.5" y1="187.25" x2="373.0" y2="187.25" stroke="#666" stroke-width="1" />
<line x1="701.75" y1="187.25" x2="698.25" y2="187.25" stroke="#666" stroke-width="1" />
<line x1="376.5" y1="197.45833333333334" x2="373.0" y2="197.45833333333334" stroke="#666" stroke-width="1" />
<line x1="701.75" y1="197.45833333333334" x2="698.25" y2="197.45833333333334" stroke="#666" stroke-width="1" />
<line x1="376.5" y1="207.66666666666666" x2="370.0" y2="207.66666666666666" stroke="#666" stroke-width="1" />
<line x1="701.75" y1="207.66666666666666" x2="695.25" y2="207.66666666666666" stroke="#666" stroke-width="1" />
<line x1="376.5" y1="217.875" x2="373.0" y2="217.875" stroke="#666" stroke-width="1" />
<line x1="701.75" y1="217.875" x2="698.25" y2="217.875" stroke="#666" stroke-width="1" />
<line x1="376.5" y1="228.08333333333334" x2="373.0" y2="228.08333333333334" stroke="#666" stroke-width="1" />
<line x1="701.75" y1="228.08333333333334" x2="698.25" y2="228.08333333333334" stroke="#666" stroke-width="1" />
<line x1="376.5" y1="238.29166666666666" x2="373.0" y2="238.29166666666666" stroke="#666" stroke-width="1" />
<line x1="701.75" y1="238.29166666666666" x2="698.25" y2="238.29166666666666" stroke="#666" stroke-width="1" />
<line x1="376.5" y1="248.5" x2="373.0" y2="248.5" stroke="#666" stroke-width="1" />
<line x1="701.75" y1="248.5" x2="698.25" y2="248.5" stroke="#666" stroke-width="1" />
<line x1="749.3" y1="3.7" x2="749.3" y2="55.5" stroke="#222" stroke-width="1" />
<line x1="741.3" y1="3.7" x2="749.3" y2="3.7" stroke="#222" stroke-width="1.2" />
<line x1="741.3" y1="55.5" x2="749.3" y2="55.5" stroke="#222" stroke-width="1.2" />
<line x1="745.8" y1="13.7" x2="749.3" y2="13.7" stroke="#444" stroke-width="1" />
<line x1="745.8" y1="24.2" x2="749.3" y2="24.2" stroke="#444" stroke-width="1" />
<line x1="745.8" y1="34.4" x2="749.3" y2="34.4" stroke="#444" stroke-width="1" />
<line x1="745.8" y1="44.6" x2="749.3" y2="44.6" stroke="#444" stroke-width="1" />
<line x1="749.3" y1="65.2" x2="749.3" y2="249.4" stroke="#222" stroke-width="1" />
<line x1="741.4" y1="65.2" x2="749.3" y2="65.2" stroke="#222" stroke-width="1.2" />
<line x1="744.2" y1="249.4" x2="749.3" y2="249.4" stroke="#222" stroke-width="1.2" />
<line x1="745.8" y1="238.79" x2="749.3" y2="238.79" stroke="#666" stroke-width="1" />
<line x1="745.8" y1="228.57999999999998" x2="749.3" y2="228.57999999999998" stroke="#666" stroke-width="1" />
<line x1="745.8" y1="218.37" x2="749.3" y2="218.37" stroke="#666" stroke-width="1" />
<line x1="742.8" y1="208.16" x2="749.3" y2="208.16" stroke="#333" stroke-width="1" />
<line x1="745.8" y1="197.95" x2="749.3" y2="197.95" stroke="#666" stroke-width="1" />
<line x1="745.8" y1="187.74" x2="749.3" y2="187.74" stroke="#666" stroke-width="1" />
<line x1="745.8" y1="177.53" x2="749.3" y2="177.53" stroke="#666" stroke-width="1" />
<line x1="742.8" y1="167.32" x2="749.3" y2="167.32" stroke="#333" stroke-width="1" />
<line x1="745.8" y1="157.10999999999999" x2="749.3" y2="157.10999999999999" stroke="#666" stroke-width="1" />
<line x1="745.8" y1="146.89999999999998" x2="749.3" y2="146.89999999999998" stroke="#666" stroke-width="1" />
<line x1="745.8" y1="136.69" x2="749.3" y2="136.69" stroke="#666" stroke-width="1" />
<line x1="742.8" y1="126.47999999999999" x2="749.3" y2="126.47999999999999" stroke="#333" stroke-width="1" />
<line x1="745.8" y1="116.26999999999998" x2="749.3" y2="116.26999999999998" stroke="#666" stroke-width="1" />
<line x1="745.8" y1="106.06" x2="749.3" y2="106.06" stroke="#666" stroke-width="1" />
<line x1="745.8" y1="95.85" x2="749.3" y2="95.85" stroke="#666" stroke-width="1" />
<line x1="742.8" y1="85.63999999999999" x2="749.3" y2="85.63999999999999" stroke="#333" stroke-width="1" />
<line x1="745.8" y1="75.42999999999998" x2="749.3" y2="75.42999999999998" stroke="#666" stroke-width="1" />
<text x="53.9" y="9.5" font-size="12.3" fill="#000" font-weight="bold" text-anchor="end" textLength="22.2" lengthAdjust="spacingAndGlyphs" >300</text>
<text x="53.9" y="48.73" font-size="12.3" fill="#000" font-weight="bold" text-anchor="end" textLength="22.2" lengthAdjust="spacingAndGlyphs" >280</text>
<text x="53.9" y="89.56" font-size="12.3" fill="#000" font-weight="bold" text-anchor="end" textLength="22.2" lengthAdjust="spacingAndGlyphs" >260</text>
<text x="53.9" y="130.39" font-size="12.3" fill="#000" font-weight="bold" text-anchor="end" textLength="22.2" lengthAdjust="spacingAndGlyphs" >240</text>
<text x="53.9" y="171.22" font-size="12.3" fill="#000" font-weight="bold" text-anchor="end" textLength="22.2" lengthAdjust="spacingAndGlyphs" >220</text>
<text x="53.9" y="212.04999999999998" font-size="12.3" fill="#000" font-weight="bold" text-anchor="end" textLength="22.2" lengthAdjust="spacingAndGlyphs" >200</text>
<text x="53.9" y="252.88" font-size="12.3" fill="#000" font-weight="bold" text-anchor="end" textLength="22.2" lengthAdjust="spacingAndGlyphs" >180</text>
<text x="143.87123287671233" y="261.4" font-size="12.3" fill="#000" font-weight="bold" text-anchor="middle" textLength="22" lengthAdjust="spacingAndGlyphs" >100</text>
<text x="231.54246575342464" y="261.4" font-size="12.3" fill="#000" font-weight="bold" text-anchor="middle" textLength="22" lengthAdjust="spacingAndGlyphs" >200</text>
<text x="319.213698630137" y="261.4" font-size="12.3" fill="#000" font-weight="bold" text-anchor="middle" textLength="22" lengthAdjust="spacingAndGlyphs" >300</text>
<text x="469.1212328767123" y="261.4" font-size="12.3" fill="#000" font-weight="bold" text-anchor="middle" textLength="22" lengthAdjust="spacingAndGlyphs" >100</text>
<text x="556.7924657534247" y="261.4" font-size="12.3" fill="#000" font-weight="bold" text-anchor="middle" textLength="22" lengthAdjust="spacingAndGlyphs" >200</text>
<text x="644.4636986301371" y="261.4" font-size="12.3" fill="#000" font-weight="bold" text-anchor="middle" textLength="22" lengthAdjust="spacingAndGlyphs" >300</text>
<text x="344.9" y="280.3" font-size="11.5" fill="#000" font-weight="bold" text-anchor="start" textLength="70.2" lengthAdjust="spacingAndGlyphs" >Day of Year</text>
<text x="12.1" y="210.9" font-size="12.9" fill="#000" font-weight="bold" text-anchor="start" textLength="159.3" lengthAdjust="spacingAndGlyphs" transform="rotate(-90 12.1 210.9)" >Brightness Temperature (K)</text>
<text x="26.5" y="195.4" font-size="12.6" fill="#ee2020" font-weight="bold" text-anchor="start" textLength="116.4" lengthAdjust="spacingAndGlyphs" transform="rotate(-90 26.5 195.4)" >Air Temperature (K)</text>
<text x="707.7" y="8.7" font-size="9" fill="#000" font-weight="bold" text-anchor="start" textLength="4.7" lengthAdjust="spacingAndGlyphs" >0</text>
<text x="704.9" y="57.7" font-size="9" fill="#000" font-weight="bold" text-anchor="start" textLength="8.1" lengthAdjust="spacingAndGlyphs" >-5</text>
<text x="704.4" y="108.0" font-size="9" fill="#000" font-weight="bold" text-anchor="start" textLength="14.6" lengthAdjust="spacingAndGlyphs" >-10</text>
<text x="704.7" y="159.0" font-size="9" fill="#000" font-weight="bold" text-anchor="start" textLength="14.3" lengthAdjust="spacingAndGlyphs" >-15</text>
<text x="725.5" y="3.1" font-size="9.2" fill="#000" font-weight="bold" text-anchor="start" textLength="171.8" lengthAdjust="spacingAndGlyphs" transform="rotate(90 725.5 3.1)" >QuikSCAT Mean Daily Backscatter (dB)</text>
<text x="752.7" y="8.8" font-size="9" fill="#000" font-weight="bold" text-anchor="start" textLength="19" lengthAdjust="spacingAndGlyphs" >0.00</text>
<text x="752.3" y="27.9" font-size="9" fill="#000" font-weight="bold" text-anchor="start" textLength="19" lengthAdjust="spacingAndGlyphs" >0.01</text>
<text x="752.3" y="47.3" font-size="9" fill="#000" font-weight="bold" text-anchor="start" textLength="19" lengthAdjust="spacingAndGlyphs" >0.02</text>
<text x="779.3" y="5.3" font-size="10.2" fill="#4444dd" font-weight="bold" text-anchor="start" textLength="55" lengthAdjust="spacingAndGlyphs" transform="rotate(90 779.3 5.3)" >Precip (m/d)</text>
<text x="752.5" y="88.7" font-size="9.3" fill="#000" font-weight="bold" text-anchor="start" textLength="10.7" lengthAdjust="spacingAndGlyphs" >80</text>
<text x="752.5" y="129.6" font-size="9.3" fill="#000" font-weight="bold" text-anchor="start" textLength="10.7" lengthAdjust="spacingAndGlyphs" >60</text>
<text x="752.5" y="170.4" font-size="9.3" fill="#000" font-weight="bold" text-anchor="start" textLength="10.7" lengthAdjust="spacingAndGlyphs" >40</text>
<text x="752.5" y="211.3" font-size="9.3" fill="#000" font-weight="bold" text-anchor="start" textLength="10.7" lengthAdjust="spacingAndGlyphs" >20</text>
<text x="752.0" y="251.9" font-size="9.3" fill="#000" font-weight="bold" text-anchor="start" textLength="4.9" lengthAdjust="spacingAndGlyphs" >0</text>
<text x="799.9" y="88.5" font-size="10" fill="#2a9a3a" font-weight="bold" text-anchor="start" textLength="140.5" lengthAdjust="spacingAndGlyphs" transform="rotate(90 799.9 88.5)" >Diurnal Amplitude Variation (K)</text>
<text x="789.6" y="84.5" font-size="10" fill="#000" font-weight="bold" text-anchor="start" textLength="149.8" lengthAdjust="spacingAndGlyphs" transform="rotate(90 789.6 84.5)" >QuikSCAT min/max daily diff (dB)</text>
<text x="780.0" y="105.4" font-size="9.4" fill="#3a3aee" font-weight="bold" text-anchor="start" textLength="92.1" lengthAdjust="spacingAndGlyphs" transform="rotate(90 780.0 105.4)" >Discharge (1/35 cms)</text>
<text x="768.9" y="92.0" font-size="10" fill="#9a4ab0" font-weight="bold" text-anchor="start" textLength="126.5" lengthAdjust="spacingAndGlyphs" transform="rotate(90 768.9 92.0)" >Snow depth/SWED (1/40 m)</text>
<text x="120.9" y="26.1" font-size="8.4" fill="#111" font-weight="bold" text-anchor="start" textLength="18" lengthAdjust="spacingAndGlyphs" >Melt</text>
<text x="118.8" y="36.3" font-size="8.4" fill="#111" font-weight="bold" text-anchor="start" textLength="22.5" lengthAdjust="spacingAndGlyphs" >Onset</text>
<text x="160.3" y="26.1" font-size="8.4" fill="#111" font-weight="bold" text-anchor="start" textLength="24.9" lengthAdjust="spacingAndGlyphs" >End Hi</text>
<text x="162.8" y="35.6" font-size="8.4" fill="#111" font-weight="bold" text-anchor="start" textLength="17.4" lengthAdjust="spacingAndGlyphs" >DAV</text>
<text x="190.5" y="56.7" font-size="11" fill="#000" font-weight="bold" text-anchor="start" textLength="12.8" lengthAdjust="spacingAndGlyphs" >Tb</text>
<text x="266" y="23.7" font-size="9" fill="#4646d8" font-weight="bold" text-anchor="start" textLength="96" lengthAdjust="spacingAndGlyphs" >Precipitation (Model)</text>
<text x="312.7" y="46.1" font-size="9.6" fill="#ee2020" font-weight="bold" text-anchor="start" textLength="40.5" lengthAdjust="spacingAndGlyphs" >Air Temp</text>
<text x="324.2" y="53.8" font-size="9.6" fill="#ee2020" font-weight="bold" text-anchor="start" textLength="35.5" lengthAdjust="spacingAndGlyphs" >(Model)</text>
<text x="148.9" y="152.4" font-size="8.8" fill="#222" font-weight="bold" text-anchor="start" textLength="57" lengthAdjust="spacingAndGlyphs" >Melt-Refreeze</text>
<text x="247.1" y="179.5" font-size="16.8" fill="#000" font-weight="bold" text-anchor="start" textLength="37.7" lengthAdjust="spacingAndGlyphs" >2003</text>
<text x="163.7" y="204.8" font-size="10.8" fill="#2b8c3c" font-weight="bold" text-anchor="start" textLength="22.7" lengthAdjust="spacingAndGlyphs" >DAV</text>
<text x="60.5" y="231.5" font-size="9.4" fill="#8a2a9a" font-weight="bold" text-anchor="start" textLength="45.5" lengthAdjust="spacingAndGlyphs" >SWED (M)</text>
<text x="226.9" y="204.2" font-size="9" fill="#33dddd" font-weight="bold" text-anchor="start" textLength="114.2" lengthAdjust="spacingAndGlyphs" >Mean Discharge (Ground)</text>
<text x="333.3" y="234.1" font-size="9.3" fill="#111" font-weight="bold" text-anchor="start" textLength="30.5" lengthAdjust="spacingAndGlyphs" >QS diff</text>
<text x="404" y="16.2" font-size="8.2" fill="#8a8a8a" font-weight="bold" text-anchor="start" textLength="57" lengthAdjust="spacingAndGlyphs" >Rain-On-Snow</text>
<text x="401.7" y="26.0" font-size="7.4" fill="#ff00ff" font-weight="bold" text-anchor="start" textLength="57" lengthAdjust="spacingAndGlyphs" >Early Melt Event</text>
<text x="440.2" y="42.3" font-size="8.4" fill="#111" font-weight="bold" text-anchor="start" textLength="18.3" lengthAdjust="spacingAndGlyphs" >Melt</text>
<text x="437.9" y="52.3" font-size="8.4" fill="#111" font-weight="bold" text-anchor="start" textLength="22.5" lengthAdjust="spacingAndGlyphs" >Onset</text>
<text x="486.7" y="20.8" font-size="8.4" fill="#111" font-weight="bold" text-anchor="start" textLength="25.2" lengthAdjust="spacingAndGlyphs" >End Hi</text>
<text x="486.7" y="32.2" font-size="8.4" fill="#111" font-weight="bold" text-anchor="start" textLength="16.3" lengthAdjust="spacingAndGlyphs" >DAV</text>
<text x="631.3" y="47.9" font-size="9.4" fill="#ff8c28" font-weight="bold" text-anchor="start" textLength="40.9" lengthAdjust="spacingAndGlyphs" >Air Temp</text>
<text x="645.4" y="55.8" font-size="9.4" fill="#ff8c28" font-weight="bold" text-anchor="start" textLength="40.5" lengthAdjust="spacingAndGlyphs" >(Ground)</text>
<text x="647.5" y="68.1" font-size="8.4" fill="#e83040" font-weight="bold" text-anchor="start" textLength="31.7" lengthAdjust="spacingAndGlyphs" >273.15K</text>
<text x="612.3" y="110.5" font-size="8.4" fill="#000" font-weight="bold" text-anchor="start" textLength="19.9" lengthAdjust="spacingAndGlyphs" >252K</text>
<text x="529.3" y="134.6" font-size="11" fill="#000" font-weight="bold" text-anchor="start" textLength="51.5" lengthAdjust="spacingAndGlyphs" >QuikSCAT</text>
<text x="484.7" y="156.6" font-size="8.4" fill="#222" font-weight="bold" text-anchor="start" textLength="55.9" lengthAdjust="spacingAndGlyphs" >Melt-Refreeze</text>
<text x="534.5" y="179.0" font-size="16.8" fill="#000" font-weight="bold" text-anchor="start" textLength="37.9" lengthAdjust="spacingAndGlyphs" >2009</text>
<text x="419.3" y="208.5" font-size="8.6" fill="#b050c0" font-weight="bold" text-anchor="start" textLength="24.3" lengthAdjust="spacingAndGlyphs" >Snow</text>
<text x="412.8" y="215.0" font-size="8.6" fill="#b050c0" font-weight="bold" text-anchor="start" textLength="41.7" lengthAdjust="spacingAndGlyphs" >Depth (G)</text>
<text x="493.2" y="204.4" font-size="9" fill="#5050e0" font-weight="bold" text-anchor="start" textLength="84.5" lengthAdjust="spacingAndGlyphs" >Discharge(Ground)</text>
<text x="615.9" y="210.1" font-size="8.6" fill="#3c9a55" font-weight="bold" text-anchor="start" textLength="14.8" lengthAdjust="spacingAndGlyphs" >18K</text>
</svg></body></html>
